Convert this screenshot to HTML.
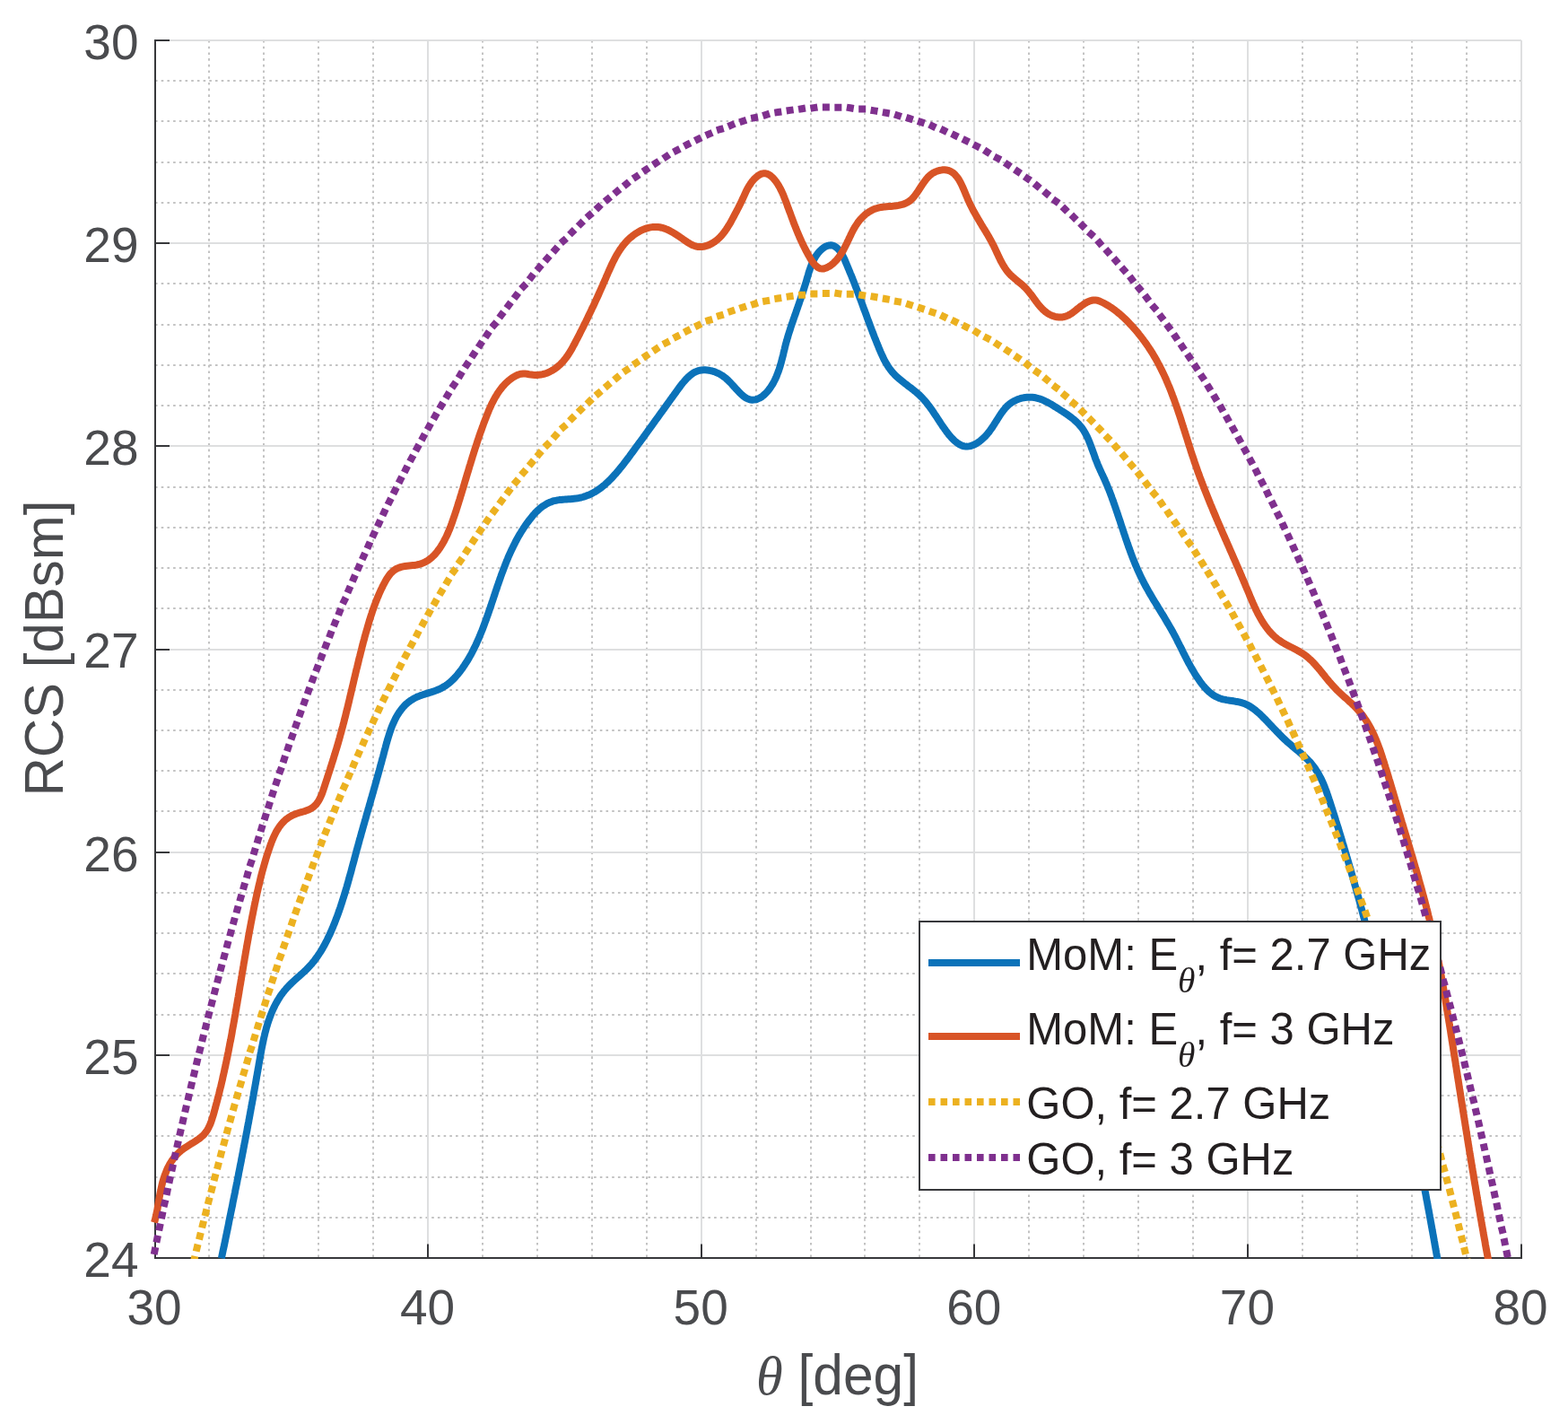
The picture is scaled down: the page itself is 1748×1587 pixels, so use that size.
<!DOCTYPE html>
<html><head><meta charset="utf-8"><title>RCS plot</title>
<style>html,body{margin:0;padding:0;background:#fff;}svg{display:block;}</style>
</head><body>
<svg xmlns="http://www.w3.org/2000/svg" width="1748" height="1587" viewBox="0 0 1748 1587">
<rect width="1748" height="1587" fill="#ffffff"/>
<path d="M233 45.0V1402.0002M294 45.0V1402.0002M355 45.0V1402.0002M416 45.0V1402.0002M538 45.0V1402.0002M599 45.0V1402.0002M660 45.0V1402.0002M721 45.0V1402.0002M843 45.0V1402.0002M904 45.0V1402.0002M964 45.0V1402.0002M1025 45.0V1402.0002M1147 45.0V1402.0002M1208 45.0V1402.0002M1269 45.0V1402.0002M1330 45.0V1402.0002M1452 45.0V1402.0002M1513 45.0V1402.0002M1574 45.0V1402.0002M1635 45.0V1402.0002M173.0 1357H1696.0M173.0 1312H1696.0M173.0 1266H1696.0M173.0 1221H1696.0M173.0 1131H1696.0M173.0 1085H1696.0M173.0 1040H1696.0M173.0 995H1696.0M173.0 904H1696.0M173.0 859H1696.0M173.0 814H1696.0M173.0 769H1696.0M173.0 678H1696.0M173.0 633H1696.0M173.0 588H1696.0M173.0 543H1696.0M173.0 452H1696.0M173.0 407H1696.0M173.0 362H1696.0M173.0 316H1696.0M173.0 226H1696.0M173.0 181H1696.0M173.0 135H1696.0M173.0 90H1696.0" stroke="#c3c3c3" stroke-width="2" stroke-dasharray="2.6 4.1" fill="none"/>
<path d="M477 45.0V1402.0002M782 45.0V1402.0002M1086 45.0V1402.0002M1391 45.0V1402.0002M1696 45.0V1402.0002M173.0 1176H1696.0M173.0 950H1696.0M173.0 724H1696.0M173.0 497H1696.0M173.0 271H1696.0M173.0 45H1696.0" stroke="#dedfe0" stroke-width="2" fill="none"/>
<path d="M173.0 44.0V1403.0002M172.0 1402.0002H1697.0M172.0 1402h17M172.0 1176h17M172.0 950h17M172.0 724h17M172.0 497h17M172.0 271h17M172.0 45h17M173 1403.0002v-16.5M477 1403.0002v-16.5M782 1403.0002v-16.5M1086 1403.0002v-16.5M1391 1403.0002v-16.5M1696 1403.0002v-16.5" stroke="#37383b" stroke-width="2" fill="none"/>
<defs><clipPath id="ax"><rect x="160" y="30" width="1560" height="1373"/></clipPath></defs>
<g clip-path="url(#ax)">
<path d="M246.9 1402.3 L247.3 1400.3 L247.7 1398.3 L248.1 1396.4 L248.5 1394.4 L248.9 1392.5 L249.4 1390.5 L249.8 1388.6 L250.2 1386.6 L250.6 1384.7 L251 1382.7 L251.4 1380.8 L251.8 1378.8 L252.2 1376.9 L252.6 1375 L253 1373 L253.4 1371.1 L253.8 1369.1 L254.2 1367.2 L254.6 1365.3 L255 1363.3 L255.3 1361.4 L255.7 1359.5 L256.1 1357.6 L256.5 1355.6 L256.9 1353.7 L257.3 1351.8 L257.7 1349.8 L258.1 1347.9 L258.5 1346 L258.9 1344.1 L259.3 1342.1 L259.6 1340.2 L260 1338.3 L260.4 1336.4 L260.8 1334.5 L261.2 1332.5 L261.6 1330.6 L262 1328.7 L262.3 1326.8 L262.7 1324.9 L263.1 1323 L263.5 1321 L263.9 1319.1 L264.3 1317.2 L264.6 1315.3 L265 1313.4 L265.4 1311.5 L265.8 1309.6 L266.1 1307.6 L266.5 1305.7 L266.9 1303.8 L267.3 1301.9 L267.6 1300 L268 1298.1 L268.4 1296.2 L268.8 1294.3 L269.1 1292.3 L269.5 1290.4 L269.9 1288.5 L270.2 1286.6 L270.6 1284.7 L271 1282.8 L271.3 1280.9 L271.7 1278.9 L272.1 1277 L272.4 1275.1 L272.8 1273.2 L273.2 1271.3 L273.5 1269.4 L273.9 1267.4 L274.3 1265.5 L274.6 1263.6 L275 1261.7 L275.4 1259.8 L275.7 1257.8 L276.1 1255.9 L276.4 1254 L276.8 1252.1 L277.2 1250.2 L277.5 1248.2 L277.9 1246.3 L278.2 1244.4 L278.6 1242.5 L278.9 1240.5 L279.3 1238.6 L279.6 1236.7 L280 1234.7 L280.3 1232.8 L280.7 1230.9 L281.1 1228.9 L281.4 1227 L281.8 1225.1 L282.1 1223.1 L282.5 1221.2 L282.8 1219.2 L283.1 1217.3 L283.5 1215.3 L283.8 1213.4 L284.2 1211.5 L284.5 1209.5 L284.9 1207.6 L285.2 1205.6 L285.6 1203.6 L285.9 1201.7 L286.2 1199.7 L286.6 1197.8 L286.9 1195.8 L287.3 1193.9 L287.6 1191.9 L288 1189.9 L288.3 1188 L288.6 1186 L289 1184 L289.3 1182 L289.7 1180.1 L290 1178.1 L290.3 1176.1 L290.7 1174.1 L291.1 1172.2 L291.4 1170.2 L291.8 1168.2 L292.2 1166.3 L292.6 1164.3 L293 1162.4 L293.4 1160.4 L293.8 1158.5 L294.2 1156.6 L294.7 1154.6 L295.1 1152.7 L295.6 1150.8 L296.1 1148.9 L296.6 1147 L297.1 1145.1 L297.7 1143.2 L298.2 1141.4 L298.8 1139.5 L299.4 1137.7 L300.1 1135.8 L300.7 1134 L301.4 1132.2 L302.1 1130.4 L302.8 1128.6 L303.5 1126.9 L304.3 1125.1 L305.1 1123.4 L306 1121.6 L306.8 1119.9 L307.7 1118.3 L308.6 1116.6 L309.6 1114.9 L310.6 1113.3 L311.6 1111.7 L312.6 1110.1 L313.7 1108.5 L314.9 1107 L316 1105.5 L317.2 1104 L318.5 1102.5 L319.7 1101 L321.1 1099.6 L322.4 1098.2 L323.8 1096.8 L325.2 1095.4 L326.7 1094.1 L328.2 1092.7 L329.6 1091.4 L331.1 1090 L332.6 1088.7 L334.1 1087.4 L335.6 1086 L337.1 1084.7 L338.6 1083.3 L340 1082 L341.5 1080.6 L342.9 1079.2 L344.2 1077.8 L345.6 1076.3 L346.9 1074.9 L348.1 1073.4 L349.4 1071.9 L350.6 1070.4 L351.7 1068.8 L352.9 1067.3 L354 1065.7 L355.1 1064.1 L356.1 1062.5 L357.2 1060.9 L358.2 1059.3 L359.2 1057.6 L360.1 1056 L361.1 1054.3 L362 1052.6 L362.9 1050.9 L363.8 1049.2 L364.7 1047.5 L365.5 1045.7 L366.3 1044 L367.2 1042.2 L368 1040.5 L368.8 1038.7 L369.6 1036.9 L370.3 1035.1 L371.1 1033.3 L371.8 1031.5 L372.6 1029.7 L373.3 1027.9 L374 1026.1 L374.7 1024.2 L375.4 1022.4 L376.1 1020.6 L376.8 1018.7 L377.4 1016.9 L378.1 1015 L378.7 1013.2 L379.4 1011.3 L380 1009.4 L380.6 1007.5 L381.2 1005.7 L381.8 1003.8 L382.4 1001.9 L383 1000 L383.6 998.1 L384.2 996.2 L384.8 994.3 L385.3 992.4 L385.9 990.5 L386.5 988.6 L387 986.7 L387.6 984.8 L388.1 982.9 L388.6 981 L389.2 979 L389.7 977.1 L390.2 975.2 L390.8 973.3 L391.3 971.4 L391.8 969.5 L392.3 967.6 L392.8 965.6 L393.3 963.7 L393.9 961.8 L394.4 959.9 L394.9 958 L395.4 956.1 L395.9 954.2 L396.4 952.3 L396.9 950.4 L397.4 948.5 L397.9 946.6 L398.5 944.7 L399 942.8 L399.5 940.9 L400 939.1 L400.5 937.2 L401 935.3 L401.6 933.4 L402.1 931.6 L402.6 929.7 L403.1 927.8 L403.7 926 L404.2 924.1 L404.7 922.2 L405.2 920.4 L405.8 918.5 L406.3 916.7 L406.8 914.8 L407.4 912.9 L407.9 911.1 L408.4 909.2 L408.9 907.4 L409.5 905.5 L410 903.7 L410.5 901.8 L411.1 899.9 L411.6 898.1 L412.1 896.2 L412.7 894.4 L413.2 892.5 L413.7 890.6 L414.3 888.8 L414.8 886.9 L415.3 885 L415.9 883.2 L416.4 881.3 L416.9 879.4 L417.5 877.5 L418 875.7 L418.5 873.8 L419.1 871.9 L419.6 870 L420.1 868.1 L420.6 866.2 L421.2 864.3 L421.7 862.4 L422.2 860.5 L422.8 858.6 L423.3 856.7 L423.8 854.8 L424.3 852.8 L424.9 850.9 L425.4 849 L425.9 847 L426.4 845.1 L427 843.1 L427.5 841.2 L428 839.2 L428.5 837.3 L429 835.3 L429.6 833.3 L430.1 831.3 L430.6 829.4 L431.2 827.4 L431.7 825.5 L432.3 823.5 L432.9 821.6 L433.5 819.6 L434.1 817.7 L434.7 815.8 L435.4 813.9 L436 812.1 L436.7 810.2 L437.4 808.4 L438.2 806.6 L439 804.8 L439.8 803.1 L440.6 801.4 L441.5 799.7 L442.4 798 L443.4 796.4 L444.4 794.8 L445.4 793.3 L446.5 791.8 L447.6 790.3 L448.8 788.9 L450 787.5 L451.2 786.2 L452.5 784.9 L453.9 783.7 L455.3 782.5 L456.8 781.4 L458.4 780.3 L460 779.3 L461.6 778.3 L463.3 777.5 L465.1 776.6 L467 775.9 L468.9 775.1 L470.8 774.5 L472.8 773.8 L474.8 773.2 L476.8 772.6 L478.8 771.9 L480.8 771.3 L482.8 770.7 L484.8 770 L486.7 769.3 L488.6 768.5 L490.5 767.7 L492.3 766.8 L494 765.8 L495.7 764.8 L497.3 763.8 L498.9 762.6 L500.4 761.5 L501.9 760.2 L503.3 759 L504.7 757.6 L506 756.3 L507.4 754.9 L508.6 753.5 L509.9 752 L511.1 750.5 L512.3 749 L513.5 747.5 L514.6 746 L515.7 744.4 L516.8 742.8 L517.9 741.2 L518.9 739.6 L520 738 L521 736.4 L522 734.7 L523 733 L523.9 731.4 L524.9 729.7 L525.8 728 L526.7 726.2 L527.6 724.5 L528.4 722.8 L529.3 721 L530.2 719.2 L531 717.5 L531.8 715.7 L532.6 713.9 L533.4 712.1 L534.2 710.3 L534.9 708.5 L535.7 706.7 L536.4 704.8 L537.2 703 L537.9 701.2 L538.6 699.3 L539.3 697.5 L540 695.6 L540.7 693.7 L541.4 691.9 L542.1 690 L542.7 688.1 L543.4 686.3 L544.1 684.4 L544.7 682.5 L545.4 680.6 L546 678.7 L546.6 676.9 L547.3 675 L547.9 673.1 L548.5 671.2 L549.2 669.3 L549.8 667.5 L550.4 665.6 L551.1 663.7 L551.7 661.8 L552.3 659.9 L552.9 658.1 L553.6 656.2 L554.2 654.3 L554.8 652.4 L555.5 650.6 L556.1 648.7 L556.8 646.9 L557.4 645 L558.1 643.1 L558.7 641.3 L559.4 639.4 L560.1 637.6 L560.8 635.8 L561.5 633.9 L562.2 632.1 L562.9 630.3 L563.6 628.4 L564.3 626.6 L565 624.8 L565.8 623 L566.5 621.2 L567.3 619.4 L568.1 617.6 L568.9 615.9 L569.7 614.1 L570.5 612.3 L571.4 610.6 L572.2 608.8 L573.1 607.1 L574 605.4 L574.8 603.6 L575.8 601.9 L576.7 600.2 L577.6 598.5 L578.6 596.8 L579.6 595.1 L580.6 593.5 L581.6 591.8 L582.7 590.2 L583.7 588.5 L584.8 586.9 L585.9 585.3 L587 583.7 L588.2 582.1 L589.4 580.5 L590.6 578.9 L591.8 577.4 L593 575.9 L594.3 574.3 L595.6 572.9 L596.9 571.4 L598.3 570 L599.7 568.7 L601.1 567.4 L602.6 566.1 L604.1 564.9 L605.7 563.8 L607.3 562.8 L608.9 561.8 L610.6 560.9 L612.3 560.1 L614.1 559.4 L615.9 558.7 L617.7 558.2 L619.7 557.8 L621.6 557.4 L623.6 557.1 L625.6 556.9 L627.6 556.7 L629.7 556.6 L631.7 556.4 L633.8 556.3 L635.8 556.2 L637.9 556 L639.9 555.8 L641.9 555.6 L643.9 555.3 L645.9 554.9 L647.8 554.5 L649.7 554 L651.5 553.4 L653.3 552.8 L655.1 552.1 L656.9 551.4 L658.6 550.6 L660.3 549.7 L662 548.8 L663.6 547.9 L665.3 546.9 L666.9 545.8 L668.4 544.7 L670 543.6 L671.5 542.4 L673 541.2 L674.5 539.9 L675.9 538.6 L677.4 537.3 L678.8 535.9 L680.2 534.5 L681.6 533.1 L683 531.7 L684.3 530.2 L685.6 528.7 L687 527.2 L688.3 525.7 L689.6 524.2 L690.8 522.6 L692.1 521 L693.3 519.5 L694.6 517.9 L695.8 516.3 L697 514.7 L698.3 513.1 L699.5 511.5 L700.7 509.9 L701.9 508.3 L703 506.7 L704.2 505.1 L705.4 503.5 L706.6 501.9 L707.7 500.3 L708.9 498.7 L710 497.2 L711.2 495.6 L712.3 494 L713.5 492.5 L714.6 490.9 L715.8 489.3 L716.9 487.8 L718 486.2 L719.2 484.7 L720.3 483.1 L721.4 481.6 L722.5 480 L723.7 478.4 L724.8 476.9 L725.9 475.3 L727 473.8 L728.2 472.2 L729.3 470.7 L730.4 469.1 L731.5 467.5 L732.7 466 L733.8 464.4 L734.9 462.8 L736.1 461.2 L737.2 459.7 L738.4 458.1 L739.5 456.5 L740.7 454.9 L741.8 453.3 L743 451.7 L744.1 450.1 L745.3 448.5 L746.5 446.8 L747.6 445.2 L748.8 443.6 L750 441.9 L751.2 440.3 L752.4 438.6 L753.6 437 L754.8 435.3 L756 433.6 L757.2 432 L758.5 430.3 L759.7 428.7 L761 427 L762.3 425.5 L763.6 423.9 L765 422.4 L766.4 421 L767.8 419.7 L769.2 418.4 L770.7 417.3 L772.2 416.2 L773.8 415.2 L775.4 414.4 L777.1 413.7 L778.8 413.1 L780.6 412.7 L782.5 412.4 L784.3 412.3 L786.2 412.3 L788.2 412.4 L790.1 412.7 L792.1 413.1 L794 413.5 L795.9 414.1 L797.8 414.8 L799.6 415.6 L801.4 416.4 L803.1 417.4 L804.8 418.4 L806.3 419.4 L807.8 420.5 L809.3 421.7 L810.7 423 L812.1 424.3 L813.4 425.6 L814.8 427 L816.1 428.5 L817.5 430 L818.9 431.6 L820.4 433.2 L821.9 434.8 L823.5 436.5 L825.1 438.2 L826.8 439.8 L828.5 441.3 L830.2 442.6 L831.9 443.7 L833.6 444.5 L835.3 445.1 L837 445.5 L838.7 445.7 L840.3 445.6 L842 445.4 L843.6 445 L845.1 444.4 L846.7 443.7 L848.2 442.8 L849.7 441.8 L851.1 440.6 L852.5 439.4 L853.9 438 L855.2 436.6 L856.5 435.1 L857.7 433.5 L858.9 431.9 L860 430.2 L861.1 428.5 L862.1 426.7 L863 425 L863.9 423.2 L864.8 421.4 L865.6 419.6 L866.3 417.7 L867 415.9 L867.7 414 L868.4 412.1 L869 410.3 L869.6 408.4 L870.1 406.5 L870.7 404.6 L871.2 402.6 L871.7 400.7 L872.2 398.8 L872.7 396.9 L873.2 394.9 L873.6 393 L874.1 391.1 L874.6 389.1 L875 387.2 L875.5 385.3 L876 383.3 L876.5 381.4 L877.1 379.5 L877.6 377.6 L878.2 375.7 L878.7 373.8 L879.3 371.9 L879.9 370.1 L880.5 368.2 L881.1 366.3 L881.7 364.4 L882.3 362.6 L882.9 360.7 L883.6 358.9 L884.2 357 L884.8 355.2 L885.5 353.4 L886.1 351.5 L886.8 349.7 L887.4 347.9 L888 346.1 L888.7 344.2 L889.3 342.4 L889.9 340.6 L890.6 338.8 L891.2 336.9 L891.8 335.1 L892.5 333.3 L893.1 331.4 L893.7 329.6 L894.3 327.8 L894.9 325.9 L895.5 324 L896.1 322.2 L896.7 320.3 L897.3 318.4 L897.9 316.5 L898.5 314.6 L899.1 312.7 L899.6 310.7 L900.2 308.8 L900.8 306.8 L901.3 304.9 L901.9 302.9 L902.6 301 L903.2 299.1 L903.9 297.2 L904.6 295.3 L905.3 293.5 L906.1 291.7 L907 289.9 L907.9 288.2 L908.9 286.5 L909.9 284.8 L911 283.3 L912.2 281.7 L913.5 280.3 L914.8 278.9 L916.3 277.6 L917.8 276.4 L919.4 275.3 L921.1 274.4 L922.8 273.8 L924.5 273.4 L926.2 273.3 L927.9 273.5 L929.6 274.1 L931.2 275 L932.7 276.1 L934.2 277.4 L935.5 278.8 L936.7 280.4 L937.9 282.1 L938.9 283.9 L939.9 285.8 L940.9 287.8 L941.8 289.7 L942.6 291.7 L943.4 293.6 L944.2 295.5 L945 297.4 L945.7 299.2 L946.5 301 L947.2 302.8 L947.9 304.5 L948.7 306.3 L949.4 308 L950.1 309.8 L950.8 311.6 L951.5 313.3 L952.2 315.1 L952.9 316.9 L953.6 318.7 L954.3 320.5 L955 322.3 L955.7 324.2 L956.4 326 L957 327.8 L957.7 329.6 L958.4 331.5 L959.1 333.3 L959.8 335.2 L960.5 337 L961.2 338.9 L961.8 340.7 L962.5 342.6 L963.2 344.5 L963.9 346.3 L964.6 348.2 L965.3 350 L966 351.9 L966.6 353.8 L967.3 355.6 L968 357.5 L968.7 359.3 L969.4 361.2 L970.1 363.1 L970.8 364.9 L971.5 366.8 L972.2 368.6 L972.9 370.5 L973.6 372.3 L974.3 374.1 L975 376 L975.8 377.8 L976.5 379.6 L977.2 381.4 L977.9 383.2 L978.7 385 L979.4 386.8 L980.1 388.6 L980.9 390.4 L981.6 392.1 L982.4 393.9 L983.2 395.6 L984 397.3 L984.8 399.1 L985.6 400.8 L986.5 402.4 L987.4 404.1 L988.4 405.7 L989.4 407.3 L990.4 408.9 L991.5 410.5 L992.6 412 L993.8 413.5 L995 415 L996.3 416.4 L997.6 417.8 L999 419.2 L1000.5 420.5 L1002 421.9 L1003.6 423.2 L1005.1 424.4 L1006.7 425.7 L1008.3 427 L1010 428.2 L1011.6 429.5 L1013.2 430.7 L1014.9 431.9 L1016.5 433.2 L1018.1 434.4 L1019.6 435.7 L1021.2 436.9 L1022.6 438.2 L1024.1 439.5 L1025.5 440.8 L1026.8 442.1 L1028.2 443.5 L1029.4 444.9 L1030.7 446.3 L1031.9 447.7 L1033.1 449.1 L1034.2 450.6 L1035.3 452.1 L1036.5 453.6 L1037.6 455.1 L1038.7 456.6 L1039.8 458.2 L1040.8 459.8 L1041.9 461.4 L1043 463 L1044.1 464.7 L1045.2 466.4 L1046.3 468.1 L1047.5 469.8 L1048.6 471.6 L1049.8 473.4 L1051 475.2 L1052.3 476.9 L1053.5 478.7 L1054.8 480.5 L1056.1 482.2 L1057.4 484 L1058.8 485.6 L1060.2 487.2 L1061.6 488.7 L1063 490.1 L1064.4 491.5 L1065.9 492.7 L1067.4 493.9 L1068.9 494.8 L1070.4 495.7 L1071.9 496.4 L1073.5 497 L1075.1 497.4 L1076.7 497.6 L1078.3 497.6 L1080 497.4 L1081.6 497.1 L1083.3 496.6 L1084.9 496 L1086.6 495.3 L1088.2 494.4 L1089.9 493.4 L1091.5 492.3 L1093.1 491 L1094.6 489.7 L1096.2 488.3 L1097.7 486.9 L1099.1 485.4 L1100.5 483.8 L1101.9 482.2 L1103.2 480.5 L1104.4 478.8 L1105.6 477.1 L1106.8 475.4 L1107.9 473.7 L1109 471.9 L1110.1 470.2 L1111.2 468.5 L1112.2 466.8 L1113.3 465.1 L1114.4 463.4 L1115.5 461.7 L1116.6 460.1 L1117.7 458.6 L1118.9 457 L1120.1 455.6 L1121.3 454.1 L1122.6 452.8 L1124 451.5 L1125.4 450.3 L1126.9 449.2 L1128.5 448.1 L1130.2 447.1 L1131.9 446.3 L1133.6 445.5 L1135.5 444.8 L1137.3 444.2 L1139.2 443.7 L1141.1 443.3 L1143 443 L1145 442.8 L1146.9 442.7 L1148.9 442.7 L1150.8 442.8 L1152.7 443 L1154.6 443.3 L1156.5 443.8 L1158.4 444.3 L1160.2 444.9 L1162 445.6 L1163.8 446.4 L1165.6 447.3 L1167.4 448.2 L1169.2 449.1 L1170.9 450.1 L1172.7 451.1 L1174.4 452.2 L1176.1 453.3 L1177.9 454.3 L1179.6 455.4 L1181.3 456.5 L1183 457.6 L1184.7 458.6 L1186.3 459.7 L1188 460.8 L1189.6 461.9 L1191.2 463 L1192.8 464.2 L1194.3 465.3 L1195.8 466.5 L1197.3 467.7 L1198.7 469 L1200.1 470.3 L1201.5 471.6 L1202.8 472.9 L1204 474.4 L1205.2 475.8 L1206.4 477.3 L1207.5 478.9 L1208.5 480.5 L1209.5 482.2 L1210.4 483.9 L1211.3 485.6 L1212.2 487.4 L1213 489.2 L1213.8 491 L1214.5 492.9 L1215.3 494.8 L1216 496.7 L1216.7 498.6 L1217.4 500.5 L1218.1 502.4 L1218.8 504.3 L1219.5 506.2 L1220.2 508.2 L1220.8 510.1 L1221.5 512 L1222.3 513.8 L1223 515.7 L1223.7 517.5 L1224.5 519.4 L1225.3 521.2 L1226.1 523 L1226.9 524.7 L1227.7 526.5 L1228.5 528.2 L1229.4 530 L1230.2 531.8 L1231 533.5 L1231.8 535.3 L1232.5 537.1 L1233.3 538.8 L1234.1 540.6 L1234.8 542.4 L1235.5 544.2 L1236.3 546 L1237 547.8 L1237.7 549.7 L1238.4 551.5 L1239.1 553.3 L1239.7 555.1 L1240.4 557 L1241.1 558.8 L1241.7 560.7 L1242.4 562.5 L1243 564.4 L1243.7 566.2 L1244.3 568.1 L1244.9 569.9 L1245.6 571.8 L1246.2 573.7 L1246.8 575.5 L1247.4 577.4 L1248.1 579.3 L1248.7 581.1 L1249.3 583 L1249.9 584.9 L1250.5 586.8 L1251.2 588.6 L1251.8 590.5 L1252.4 592.4 L1253 594.3 L1253.7 596.1 L1254.3 598 L1254.9 599.9 L1255.5 601.7 L1256.2 603.6 L1256.8 605.5 L1257.5 607.3 L1258.1 609.2 L1258.8 611 L1259.5 612.9 L1260.1 614.7 L1260.8 616.6 L1261.5 618.4 L1262.2 620.3 L1262.9 622.1 L1263.6 623.9 L1264.4 625.8 L1265.1 627.6 L1265.8 629.4 L1266.6 631.2 L1267.4 633 L1268.2 634.8 L1269 636.6 L1269.8 638.4 L1270.6 640.2 L1271.4 641.9 L1272.3 643.7 L1273.1 645.4 L1274 647.2 L1274.9 648.9 L1275.8 650.7 L1276.7 652.4 L1277.7 654.1 L1278.6 655.8 L1279.6 657.5 L1280.5 659.2 L1281.5 660.9 L1282.5 662.6 L1283.5 664.3 L1284.5 666 L1285.5 667.7 L1286.5 669.4 L1287.5 671 L1288.6 672.7 L1289.6 674.4 L1290.6 676.1 L1291.6 677.8 L1292.7 679.4 L1293.7 681.1 L1294.7 682.8 L1295.8 684.5 L1296.8 686.1 L1297.8 687.8 L1298.8 689.5 L1299.8 691.2 L1300.8 692.9 L1301.8 694.6 L1302.8 696.3 L1303.8 698 L1304.8 699.7 L1305.8 701.4 L1306.7 703.1 L1307.7 704.8 L1308.6 706.5 L1309.5 708.3 L1310.5 710 L1311.4 711.8 L1312.3 713.5 L1313.1 715.3 L1314 717 L1314.9 718.8 L1315.8 720.5 L1316.7 722.3 L1317.6 724.1 L1318.4 725.8 L1319.3 727.6 L1320.2 729.3 L1321.1 731.1 L1322 732.8 L1322.9 734.6 L1323.8 736.3 L1324.7 738.1 L1325.6 739.8 L1326.6 741.5 L1327.5 743.2 L1328.5 744.9 L1329.5 746.6 L1330.5 748.3 L1331.5 750 L1332.5 751.7 L1333.6 753.3 L1334.7 755 L1335.8 756.6 L1336.9 758.2 L1338 759.8 L1339.2 761.4 L1340.4 763 L1341.7 764.5 L1342.9 766 L1344.2 767.4 L1345.6 768.8 L1347 770.2 L1348.4 771.5 L1349.9 772.7 L1351.4 773.8 L1352.9 774.9 L1354.5 775.9 L1356.2 776.7 L1357.9 777.5 L1359.7 778.2 L1361.5 778.8 L1363.4 779.3 L1365.3 779.7 L1367.3 780.1 L1369.2 780.4 L1371.2 780.8 L1373.2 781 L1375.2 781.3 L1377.2 781.7 L1379.2 782 L1381.2 782.4 L1383.1 782.9 L1385 783.4 L1386.9 784.1 L1388.7 784.8 L1390.5 785.6 L1392.2 786.5 L1393.9 787.5 L1395.5 788.6 L1397.1 789.7 L1398.7 790.9 L1400.3 792.2 L1401.8 793.5 L1403.3 794.8 L1404.8 796.1 L1406.2 797.5 L1407.6 798.9 L1409 800.3 L1410.4 801.7 L1411.8 803.1 L1413.1 804.5 L1414.5 806 L1415.8 807.4 L1417.2 808.8 L1418.5 810.2 L1419.8 811.6 L1421.2 813 L1422.5 814.4 L1423.9 815.8 L1425.2 817.2 L1426.6 818.6 L1427.9 819.9 L1429.3 821.3 L1430.7 822.7 L1432.1 824 L1433.6 825.4 L1435 826.7 L1436.5 828 L1438 829.3 L1439.5 830.6 L1441 831.9 L1442.6 833.2 L1444.1 834.5 L1445.7 835.7 L1447.2 837 L1448.7 838.3 L1450.3 839.6 L1451.8 841 L1453.2 842.3 L1454.7 843.6 L1456.1 845 L1457.6 846.4 L1458.9 847.8 L1460.3 849.2 L1461.6 850.7 L1462.8 852.2 L1464 853.7 L1465.2 855.2 L1466.3 856.8 L1467.3 858.4 L1468.4 860 L1469.4 861.6 L1470.3 863.3 L1471.2 865 L1472.1 866.7 L1473 868.4 L1473.8 870.2 L1474.6 871.9 L1475.4 873.7 L1476.1 875.5 L1476.8 877.3 L1477.5 879.1 L1478.2 881 L1478.9 882.8 L1479.5 884.7 L1480.2 886.5 L1480.8 888.4 L1481.4 890.3 L1482.1 892.1 L1482.7 894 L1483.3 895.9 L1483.9 897.7 L1484.5 899.6 L1485.1 901.5 L1485.7 903.4 L1486.3 905.2 L1486.9 907.1 L1487.5 909 L1488.1 910.9 L1488.7 912.8 L1489.2 914.6 L1489.8 916.5 L1490.4 918.4 L1491 920.3 L1491.6 922.1 L1492.2 924 L1492.7 925.9 L1493.3 927.8 L1493.9 929.7 L1494.5 931.5 L1495 933.4 L1495.6 935.3 L1496.2 937.2 L1496.7 939.1 L1497.3 940.9 L1497.9 942.8 L1498.4 944.7 L1499 946.6 L1499.6 948.5 L1500.1 950.4 L1500.7 952.2 L1501.2 954.1 L1501.8 956 L1502.3 957.9 L1502.9 959.8 L1503.4 961.7 L1504 963.6 L1504.5 965.4 L1505.1 967.3 L1505.6 969.2 L1506.2 971.1 L1506.7 973 L1507.2 974.9 L1507.8 976.8 L1508.3 978.6 L1508.8 980.5 L1509.4 982.4 L1509.9 984.3 L1510.4 986.2 L1511 988.1 L1511.5 990 L1512 991.9 L1512.6 993.8 L1513.1 995.6 L1513.6 997.5 L1514.1 999.4 L1514.7 1001.3 L1515.2 1003.2 L1515.7 1005.1 L1516.2 1007 L1516.7 1008.9 L1517.2 1010.8 L1517.8 1012.7 L1518.3 1014.6 L1518.8 1016.5 L1519.3 1018.4 L1519.8 1020.3 L1520.3 1022.1 L1520.8 1024 L1521.3 1025.9 L1521.8 1027.8 L1522.3 1029.7 L1522.8 1031.6 L1523.3 1033.5 L1523.8 1035.4 L1524.3 1037.3 L1524.8 1039.2 L1525.3 1041.1 L1525.8 1043 L1526.3 1044.9 L1526.8 1046.8 L1527.3 1048.7 L1527.8 1050.6 L1528.3 1052.5 L1528.8 1054.4 L1529.3 1056.3 L1529.8 1058.2 L1530.2 1060.1 L1530.7 1062 L1531.2 1063.9 L1531.7 1065.8 L1532.2 1067.7 L1532.7 1069.6 L1533.1 1071.5 L1533.6 1073.4 L1534.1 1075.3 L1534.6 1077.2 L1535 1079.1 L1535.5 1081.1 L1536 1083 L1536.5 1084.9 L1536.9 1086.8 L1537.4 1088.7 L1537.9 1090.6 L1538.3 1092.5 L1538.8 1094.4 L1539.3 1096.3 L1539.7 1098.2 L1540.2 1100.1 L1540.7 1102 L1541.1 1103.9 L1541.6 1105.8 L1542 1107.7 L1542.5 1109.7 L1543 1111.6 L1543.4 1113.5 L1543.9 1115.4 L1544.3 1117.3 L1544.8 1119.2 L1545.2 1121.1 L1545.7 1123 L1546.1 1124.9 L1546.6 1126.8 L1547 1128.8 L1547.5 1130.7 L1547.9 1132.6 L1548.4 1134.5 L1548.8 1136.4 L1549.3 1138.3 L1549.7 1140.2 L1550.1 1142.1 L1550.6 1144.1 L1551 1146 L1551.5 1147.9 L1551.9 1149.8 L1552.3 1151.7 L1552.8 1153.6 L1553.2 1155.5 L1553.6 1157.5 L1554.1 1159.4 L1554.5 1161.3 L1554.9 1163.2 L1555.4 1165.1 L1555.8 1167 L1556.2 1169 L1556.7 1170.9 L1557.1 1172.8 L1557.5 1174.7 L1557.9 1176.6 L1558.4 1178.5 L1558.8 1180.5 L1559.2 1182.4 L1559.6 1184.3 L1560 1186.2 L1560.5 1188.1 L1560.9 1190 L1561.3 1192 L1561.7 1193.9 L1562.1 1195.8 L1562.5 1197.7 L1563 1199.6 L1563.4 1201.6 L1563.8 1203.5 L1564.2 1205.4 L1564.6 1207.3 L1565 1209.2 L1565.4 1211.2 L1565.8 1213.1 L1566.2 1215 L1566.7 1216.9 L1567.1 1218.8 L1567.5 1220.8 L1567.9 1222.7 L1568.3 1224.6 L1568.7 1226.5 L1569.1 1228.5 L1569.5 1230.4 L1569.9 1232.3 L1570.3 1234.2 L1570.7 1236.2 L1571.1 1238.1 L1571.5 1240 L1571.9 1241.9 L1572.3 1243.8 L1572.7 1245.8 L1573 1247.7 L1573.4 1249.6 L1573.8 1251.5 L1574.2 1253.5 L1574.6 1255.4 L1575 1257.3 L1575.4 1259.2 L1575.8 1261.2 L1576.2 1263.1 L1576.6 1265 L1576.9 1266.9 L1577.3 1268.9 L1577.7 1270.8 L1578.1 1272.7 L1578.5 1274.6 L1578.9 1276.6 L1579.2 1278.5 L1579.6 1280.4 L1580 1282.4 L1580.4 1284.3 L1580.8 1286.2 L1581.1 1288.1 L1581.5 1290.1 L1581.9 1292 L1582.3 1293.9 L1582.6 1295.8 L1583 1297.8 L1583.4 1299.7 L1583.8 1301.6 L1584.1 1303.6 L1584.5 1305.5 L1584.9 1307.4 L1585.2 1309.3 L1585.6 1311.3 L1586 1313.2 L1586.3 1315.1 L1586.7 1317.1 L1587.1 1319 L1587.4 1320.9 L1587.8 1322.8 L1588.2 1324.8 L1588.5 1326.7 L1588.9 1328.6 L1589.3 1330.6 L1589.6 1332.5 L1590 1334.4 L1590.3 1336.4 L1590.7 1338.3 L1591.1 1340.2 L1591.4 1342.1 L1591.8 1344.1 L1592.1 1346 L1592.5 1347.9 L1592.9 1349.9 L1593.2 1351.8 L1593.6 1353.7 L1593.9 1355.7 L1594.3 1357.6 L1594.6 1359.5 L1595 1361.5 L1595.3 1363.4 L1595.7 1365.3 L1596 1367.3 L1596.4 1369.2 L1596.7 1371.1 L1597.1 1373 L1597.4 1375 L1597.8 1376.9 L1598.1 1378.8 L1598.5 1380.8 L1598.8 1382.7 L1599.2 1384.6 L1599.5 1386.6 L1599.8 1388.5 L1600.2 1390.4 L1600.5 1392.4 L1600.9 1394.3 L1601.2 1396.2 L1601.6 1398.2 L1601.9 1400.1 L1602.2 1402 L1602.6 1404" stroke="#0b72b9" stroke-width="8" fill="none" stroke-linejoin="round"/>
<path d="M172 1362.5 L172.6 1360.5 L173.1 1358.4 L173.6 1356.3 L174.1 1354.2 L174.5 1352.1 L175 1350 L175.4 1347.9 L175.8 1345.7 L176.1 1343.6 L176.5 1341.4 L176.9 1339.2 L177.3 1337.1 L177.6 1334.9 L178 1332.7 L178.4 1330.6 L178.8 1328.4 L179.3 1326.2 L179.7 1324.1 L180.2 1321.9 L180.7 1319.8 L181.2 1317.7 L181.8 1315.6 L182.4 1313.5 L183.1 1311.4 L183.8 1309.4 L184.6 1307.4 L185.4 1305.3 L186.2 1303.4 L187.1 1301.4 L188.1 1299.5 L189.1 1297.6 L190.2 1295.8 L191.3 1294 L192.6 1292.3 L193.8 1290.6 L195.2 1288.9 L196.6 1287.3 L198 1285.8 L199.6 1284.3 L201.2 1282.9 L202.9 1281.5 L204.6 1280.2 L206.5 1279 L208.3 1277.8 L210.2 1276.6 L212.1 1275.4 L214 1274.2 L215.9 1273.1 L217.8 1271.9 L219.6 1270.7 L221.4 1269.5 L223.1 1268.2 L224.7 1266.8 L226.3 1265.4 L227.7 1263.9 L229 1262.3 L230.3 1260.6 L231.4 1258.9 L232.4 1257 L233.3 1255.1 L234.2 1253.2 L235 1251.2 L235.7 1249.2 L236.4 1247.1 L237 1245 L237.7 1242.9 L238.3 1240.8 L238.9 1238.6 L239.5 1236.5 L240.1 1234.4 L240.6 1232.3 L241.2 1230.1 L241.8 1228 L242.3 1225.9 L242.9 1223.8 L243.4 1221.6 L244 1219.5 L244.5 1217.4 L245 1215.2 L245.5 1213.1 L246.1 1211 L246.6 1208.9 L247.1 1206.7 L247.6 1204.6 L248.1 1202.5 L248.5 1200.3 L249 1198.2 L249.5 1196.1 L250 1193.9 L250.4 1191.8 L250.9 1189.7 L251.4 1187.5 L251.8 1185.4 L252.3 1183.3 L252.7 1181.1 L253.2 1179 L253.6 1176.9 L254 1174.7 L254.5 1172.6 L254.9 1170.5 L255.3 1168.3 L255.7 1166.2 L256.1 1164.1 L256.5 1161.9 L257 1159.8 L257.4 1157.7 L257.8 1155.5 L258.2 1153.4 L258.6 1151.3 L258.9 1149.1 L259.3 1147 L259.7 1144.8 L260.1 1142.7 L260.5 1140.6 L260.9 1138.4 L261.3 1136.3 L261.6 1134.2 L262 1132 L262.4 1129.9 L262.7 1127.7 L263.1 1125.6 L263.5 1123.5 L263.8 1121.3 L264.2 1119.2 L264.6 1117 L264.9 1114.9 L265.3 1112.8 L265.7 1110.6 L266 1108.5 L266.4 1106.4 L266.7 1104.2 L267.1 1102.1 L267.4 1099.9 L267.8 1097.8 L268.2 1095.7 L268.5 1093.5 L268.9 1091.4 L269.2 1089.3 L269.6 1087.1 L269.9 1085 L270.3 1082.8 L270.7 1080.7 L271 1078.6 L271.4 1076.4 L271.7 1074.3 L272.1 1072.1 L272.5 1070 L272.8 1067.9 L273.2 1065.7 L273.6 1063.6 L273.9 1061.5 L274.3 1059.3 L274.7 1057.2 L275 1055 L275.4 1052.9 L275.8 1050.8 L276.2 1048.6 L276.6 1046.5 L276.9 1044.4 L277.3 1042.2 L277.7 1040.1 L278.1 1038 L278.5 1035.8 L278.9 1033.7 L279.3 1031.6 L279.7 1029.4 L280.1 1027.3 L280.5 1025.2 L280.9 1023 L281.3 1020.9 L281.8 1018.8 L282.2 1016.6 L282.6 1014.5 L283 1012.4 L283.5 1010.2 L283.9 1008.1 L284.3 1006 L284.8 1003.8 L285.2 1001.7 L285.7 999.6 L286.2 997.4 L286.6 995.3 L287.1 993.2 L287.6 991.1 L288.1 988.9 L288.6 986.8 L289.1 984.7 L289.6 982.6 L290.1 980.4 L290.6 978.3 L291.1 976.2 L291.7 974.1 L292.2 972 L292.8 969.9 L293.4 967.7 L294 965.6 L294.6 963.5 L295.2 961.4 L295.8 959.3 L296.4 957.2 L297.1 955.1 L297.7 953 L298.4 950.9 L299.1 948.9 L299.8 946.8 L300.5 944.7 L301.2 942.6 L302 940.5 L302.7 938.5 L303.5 936.5 L304.4 934.4 L305.2 932.5 L306.2 930.5 L307.1 928.6 L308.1 926.7 L309.2 924.9 L310.3 923.1 L311.4 921.4 L312.7 919.7 L314 918.1 L315.3 916.6 L316.8 915.1 L318.3 913.7 L319.9 912.4 L321.6 911.2 L323.4 910.1 L325.2 909 L327.2 908.1 L329.3 907.2 L331.4 906.5 L333.6 905.8 L335.9 905.1 L338.1 904.5 L340.4 903.8 L342.5 903 L344.6 902.2 L346.5 901.2 L348.3 900.1 L349.9 898.8 L351.4 897.4 L352.8 895.9 L354 894.2 L355.2 892.5 L356.2 890.6 L357.2 888.7 L358.1 886.7 L358.9 884.7 L359.7 882.6 L360.4 880.5 L361.1 878.3 L361.8 876.2 L362.5 874.1 L363.2 871.9 L363.9 869.8 L364.6 867.7 L365.3 865.6 L365.9 863.5 L366.6 861.4 L367.3 859.3 L368 857.2 L368.6 855.1 L369.3 853.1 L369.9 851 L370.6 848.9 L371.3 846.8 L371.9 844.8 L372.5 842.7 L373.2 840.6 L373.8 838.6 L374.4 836.5 L375.1 834.5 L375.7 832.4 L376.3 830.3 L376.9 828.3 L377.5 826.2 L378.1 824.1 L378.7 822 L379.2 820 L379.8 817.9 L380.4 815.8 L380.9 813.7 L381.5 811.6 L382.1 809.5 L382.6 807.4 L383.2 805.4 L383.7 803.3 L384.2 801.2 L384.8 799.1 L385.3 797 L385.8 794.8 L386.3 792.7 L386.9 790.6 L387.4 788.5 L387.9 786.4 L388.4 784.3 L388.9 782.2 L389.4 780.1 L389.9 777.9 L390.4 775.8 L390.9 773.7 L391.4 771.6 L391.9 769.5 L392.4 767.4 L392.9 765.2 L393.4 763.1 L393.9 761 L394.4 758.9 L394.9 756.7 L395.4 754.6 L395.9 752.5 L396.4 750.4 L396.9 748.3 L397.4 746.1 L398 744 L398.5 741.9 L399 739.8 L399.5 737.7 L400 735.5 L400.5 733.4 L401.1 731.3 L401.6 729.2 L402.1 727.1 L402.7 725 L403.2 722.9 L403.7 720.8 L404.3 718.6 L404.8 716.5 L405.4 714.4 L406 712.3 L406.5 710.2 L407.1 708.1 L407.7 706 L408.3 703.9 L408.9 701.9 L409.5 699.8 L410.1 697.7 L410.7 695.6 L411.3 693.5 L411.9 691.4 L412.6 689.4 L413.2 687.3 L413.9 685.2 L414.6 683.2 L415.2 681.1 L416 679.1 L416.7 677 L417.4 675 L418.2 672.9 L418.9 670.9 L419.7 668.9 L420.5 666.9 L421.4 664.9 L422.2 662.9 L423.1 660.9 L424 658.9 L424.9 656.9 L425.9 655 L426.8 653 L427.8 651.1 L428.9 649.1 L429.9 647.2 L431 645.3 L432.2 643.5 L433.4 641.7 L434.7 640 L436.1 638.4 L437.7 637 L439.3 635.6 L441.1 634.4 L443 633.4 L445.1 632.6 L447.2 631.9 L449.4 631.4 L451.6 631 L453.8 630.7 L456 630.5 L458.2 630.3 L460.4 630.1 L462.6 629.9 L464.7 629.5 L466.8 629 L468.9 628.4 L470.9 627.7 L472.9 626.8 L474.8 625.9 L476.6 624.8 L478.4 623.6 L480.1 622.3 L481.7 620.9 L483.3 619.4 L484.8 617.9 L486.2 616.2 L487.6 614.5 L488.9 612.8 L490.2 610.9 L491.4 609.1 L492.6 607.2 L493.7 605.3 L494.8 603.4 L495.8 601.4 L496.8 599.5 L497.8 597.5 L498.7 595.5 L499.6 593.5 L500.4 591.5 L501.3 589.5 L502.1 587.5 L502.8 585.5 L503.6 583.4 L504.3 581.4 L505 579.3 L505.7 577.3 L506.4 575.2 L507.1 573.2 L507.8 571.1 L508.5 569.1 L509.1 567 L509.8 564.9 L510.4 562.9 L511.1 560.8 L511.7 558.7 L512.4 556.7 L513 554.6 L513.6 552.5 L514.3 550.4 L514.9 548.4 L515.5 546.3 L516.2 544.2 L516.8 542.1 L517.4 540.1 L518 538 L518.6 535.9 L519.3 533.8 L519.9 531.7 L520.5 529.6 L521.1 527.6 L521.8 525.5 L522.4 523.4 L523 521.3 L523.6 519.2 L524.3 517.2 L524.9 515.1 L525.6 513 L526.2 510.9 L526.8 508.8 L527.5 506.8 L528.1 504.7 L528.8 502.6 L529.4 500.6 L530.1 498.5 L530.8 496.4 L531.5 494.4 L532.1 492.3 L532.8 490.2 L533.5 488.2 L534.2 486.1 L534.9 484.1 L535.6 482 L536.4 480 L537.1 477.9 L537.8 475.9 L538.6 473.8 L539.3 471.8 L540.1 469.8 L540.9 467.7 L541.7 465.7 L542.4 463.7 L543.2 461.7 L544.1 459.6 L544.9 457.6 L545.7 455.6 L546.6 453.7 L547.5 451.7 L548.4 449.7 L549.4 447.8 L550.4 445.9 L551.4 444 L552.5 442.1 L553.6 440.3 L554.7 438.4 L555.9 436.7 L557.2 434.9 L558.5 433.2 L559.8 431.5 L561.2 429.9 L562.7 428.3 L564.2 426.7 L565.9 425.2 L567.5 423.8 L569.3 422.4 L571.1 421.1 L573 419.9 L575 418.8 L576.9 417.9 L579 417.2 L581.1 416.7 L583.2 416.5 L585.4 416.6 L587.6 416.8 L589.8 417.2 L592 417.5 L594.2 417.8 L596.4 418 L598.6 418 L600.7 417.8 L602.9 417.6 L604.9 417.2 L607 416.6 L609 416 L611 415.2 L612.9 414.3 L614.8 413.3 L616.7 412.2 L618.5 411.1 L620.2 409.8 L621.9 408.5 L623.5 407.1 L625.1 405.6 L626.6 404 L628.1 402.4 L629.4 400.7 L630.8 399 L632.1 397.3 L633.3 395.5 L634.5 393.6 L635.6 391.8 L636.8 389.9 L637.9 388 L638.9 386 L640 384.1 L641 382.1 L642 380.2 L643 378.2 L644.1 376.3 L645.1 374.3 L646.1 372.4 L647 370.4 L648 368.5 L649 366.5 L650 364.6 L650.9 362.6 L651.9 360.7 L652.9 358.8 L653.8 356.8 L654.8 354.9 L655.7 352.9 L656.6 351 L657.6 349 L658.5 347.1 L659.4 345.2 L660.3 343.2 L661.3 341.3 L662.2 339.3 L663.1 337.3 L664 335.4 L664.9 333.4 L665.8 331.5 L666.7 329.5 L667.6 327.5 L668.4 325.6 L669.3 323.6 L670.2 321.6 L671.1 319.6 L672 317.6 L672.8 315.6 L673.7 313.6 L674.6 311.6 L675.5 309.6 L676.3 307.6 L677.2 305.6 L678.1 303.5 L679 301.5 L679.9 299.5 L680.8 297.5 L681.7 295.5 L682.6 293.5 L683.6 291.5 L684.6 289.6 L685.6 287.7 L686.6 285.7 L687.7 283.8 L688.8 282 L690 280.1 L691.1 278.3 L692.4 276.6 L693.6 274.8 L695 273.1 L696.3 271.4 L697.8 269.8 L699.2 268.2 L700.8 266.7 L702.4 265.2 L704.1 263.8 L705.8 262.4 L707.5 261.1 L709.4 259.9 L711.2 258.8 L713.1 257.7 L715.1 256.7 L717 255.8 L719 255.1 L721 254.4 L723.1 253.8 L725.1 253.4 L727.2 253.1 L729.2 252.9 L731.3 252.9 L733.4 253 L735.4 253.3 L737.5 253.7 L739.5 254.2 L741.5 254.9 L743.5 255.7 L745.5 256.7 L747.5 257.7 L749.5 258.8 L751.4 259.9 L753.4 261.2 L755.3 262.4 L757.3 263.7 L759.2 265 L761.1 266.3 L762.9 267.7 L764.8 268.9 L766.7 270.2 L768.6 271.3 L770.4 272.4 L772.3 273.3 L774.3 274 L776.2 274.6 L778.2 275 L780.3 275.1 L782.3 275 L784.4 274.7 L786.5 274.3 L788.5 273.6 L790.6 272.9 L792.5 271.9 L794.4 270.9 L796.3 269.7 L798 268.4 L799.7 267.1 L801.3 265.6 L802.9 264.1 L804.4 262.5 L805.8 260.8 L807.1 259.1 L808.4 257.3 L809.7 255.5 L810.9 253.6 L812.1 251.7 L813.3 249.8 L814.4 247.9 L815.5 245.9 L816.5 244 L817.6 242 L818.6 240.1 L819.6 238.2 L820.6 236.3 L821.6 234.4 L822.6 232.5 L823.6 230.6 L824.5 228.7 L825.5 226.8 L826.4 224.9 L827.3 223 L828.2 221 L829.1 219.1 L830 217.1 L830.9 215.1 L831.8 213.1 L832.8 211.2 L833.8 209.3 L835 207.3 L836.2 205.5 L837.4 203.6 L838.8 201.8 L840.3 200.1 L841.9 198.4 L843.6 196.9 L845.4 195.6 L847.2 194.5 L849 193.7 L850.9 193.3 L852.8 193.2 L854.6 193.6 L856.4 194.3 L858.2 195.3 L859.9 196.6 L861.6 198.2 L863.1 199.9 L864.6 201.7 L866 203.6 L867.3 205.6 L868.5 207.6 L869.6 209.6 L870.6 211.6 L871.6 213.6 L872.5 215.6 L873.4 217.7 L874.2 219.7 L875 221.8 L875.8 223.8 L876.5 225.8 L877.3 227.8 L878 229.9 L878.8 231.9 L879.5 233.9 L880.2 235.8 L881 237.8 L881.7 239.8 L882.4 241.8 L883.2 243.8 L883.9 245.7 L884.6 247.7 L885.4 249.7 L886.2 251.7 L886.9 253.6 L887.7 255.6 L888.5 257.6 L889.3 259.5 L890.2 261.5 L891 263.5 L891.9 265.5 L892.8 267.5 L893.7 269.5 L894.7 271.5 L895.6 273.5 L896.6 275.5 L897.7 277.6 L898.7 279.6 L899.8 281.7 L900.9 283.7 L902.1 285.8 L903.3 287.9 L904.5 289.9 L905.8 291.9 L907.2 293.7 L908.6 295.3 L910.1 296.7 L911.6 297.9 L913.2 298.8 L914.9 299.4 L916.6 299.6 L918.5 299.4 L920.4 298.8 L922.2 298 L924.1 297 L926 295.8 L927.8 294.4 L929.5 292.9 L931 291.4 L932.6 289.8 L934 288.1 L935.3 286.3 L936.6 284.5 L937.8 282.7 L939 280.8 L940.1 278.9 L941.1 277 L942.1 275 L943.1 273 L944.1 271 L945 269 L946 267 L946.9 265 L947.9 263 L948.8 261 L949.8 259 L950.8 257 L951.9 255.1 L952.9 253.2 L954.1 251.4 L955.3 249.6 L956.5 247.8 L957.8 246.1 L959.1 244.5 L960.6 242.9 L962 241.4 L963.6 240 L965.1 238.6 L966.8 237.4 L968.5 236.2 L970.3 235.2 L972.1 234.2 L974 233.3 L975.9 232.6 L977.9 232 L980 231.4 L982.1 231 L984.2 230.7 L986.4 230.4 L988.6 230.2 L990.8 230 L993 229.9 L995.2 229.7 L997.4 229.4 L999.5 229.2 L1001.7 228.9 L1003.8 228.4 L1005.8 227.9 L1007.8 227.3 L1009.7 226.5 L1011.5 225.6 L1013.3 224.5 L1015 223.2 L1016.6 221.8 L1018.1 220.2 L1019.5 218.5 L1020.9 216.6 L1022.3 214.7 L1023.6 212.8 L1024.9 210.8 L1026.2 208.8 L1027.5 206.8 L1028.8 204.8 L1030.2 202.9 L1031.5 201.1 L1032.9 199.3 L1034.3 197.7 L1035.9 196.1 L1037.5 194.7 L1039.2 193.4 L1041.1 192.3 L1043 191.4 L1045 190.6 L1047 190 L1049.1 189.6 L1051.2 189.3 L1053.2 189.3 L1055.1 189.5 L1057 189.9 L1058.8 190.5 L1060.4 191.3 L1062 192.3 L1063.5 193.4 L1064.8 194.8 L1066.1 196.3 L1067.4 197.9 L1068.6 199.6 L1069.7 201.5 L1070.8 203.5 L1071.8 205.5 L1072.8 207.6 L1073.7 209.7 L1074.7 211.9 L1075.6 214.1 L1076.5 216.4 L1077.5 218.6 L1078.4 220.8 L1079.3 223 L1080.3 225.1 L1081.3 227.2 L1082.3 229.2 L1083.3 231.2 L1084.3 233.2 L1085.3 235.2 L1086.4 237.1 L1087.5 239 L1088.5 240.9 L1089.6 242.7 L1090.7 244.6 L1091.8 246.4 L1092.8 248.2 L1093.9 250 L1095 251.8 L1096.1 253.6 L1097.2 255.3 L1098.3 257.1 L1099.3 258.9 L1100.4 260.7 L1101.5 262.5 L1102.5 264.3 L1103.6 266.2 L1104.6 268 L1105.6 269.9 L1106.6 271.8 L1107.6 273.7 L1108.5 275.7 L1109.5 277.6 L1110.4 279.6 L1111.3 281.6 L1112.3 283.6 L1113.2 285.6 L1114.2 287.6 L1115.1 289.6 L1116.1 291.6 L1117.2 293.5 L1118.3 295.4 L1119.4 297.3 L1120.6 299.1 L1121.8 300.9 L1123.1 302.6 L1124.5 304.2 L1126 305.8 L1127.5 307.3 L1129.1 308.7 L1130.7 310.1 L1132.4 311.5 L1134 312.9 L1135.7 314.3 L1137.4 315.7 L1139.1 317.1 L1140.7 318.5 L1142.3 320 L1143.8 321.6 L1145.3 323.2 L1146.7 324.9 L1148.1 326.7 L1149.5 328.4 L1150.8 330.2 L1152.2 332.1 L1153.5 333.9 L1154.8 335.7 L1156.1 337.4 L1157.5 339.2 L1158.9 340.9 L1160.3 342.5 L1161.8 344.1 L1163.3 345.6 L1164.9 347 L1166.6 348.3 L1168.3 349.5 L1170.1 350.5 L1172.1 351.5 L1174.1 352.2 L1176.2 352.8 L1178.3 353.3 L1180.4 353.5 L1182.5 353.6 L1184.6 353.4 L1186.6 353 L1188.6 352.4 L1190.5 351.6 L1192.4 350.6 L1194.3 349.5 L1196.1 348.2 L1197.9 346.8 L1199.7 345.4 L1201.5 343.9 L1203.4 342.5 L1205.3 341 L1207.2 339.7 L1209.1 338.4 L1211.1 337.2 L1213.1 336.2 L1215 335.4 L1217 334.8 L1219 334.5 L1221 334.4 L1223 334.7 L1225 335.3 L1226.9 336.1 L1228.8 337 L1230.7 337.9 L1232.6 339 L1234.4 340 L1236.3 341.2 L1238.1 342.3 L1239.9 343.6 L1241.6 344.8 L1243.4 346.1 L1245.1 347.4 L1246.8 348.8 L1248.5 350.2 L1250.1 351.7 L1251.8 353.1 L1253.4 354.6 L1255 356.2 L1256.5 357.7 L1258.1 359.3 L1259.6 360.9 L1261.1 362.5 L1262.6 364.1 L1264.1 365.8 L1265.5 367.4 L1267 369.1 L1268.4 370.8 L1269.7 372.5 L1271.1 374.2 L1272.4 375.9 L1273.7 377.6 L1275 379.4 L1276.3 381.1 L1277.6 382.9 L1278.8 384.6 L1280 386.4 L1281.2 388.2 L1282.4 390 L1283.6 391.9 L1284.7 393.7 L1285.8 395.5 L1286.9 397.4 L1288 399.2 L1289.1 401.1 L1290.1 403 L1291.1 404.9 L1292.2 406.8 L1293.1 408.7 L1294.1 410.6 L1295.1 412.6 L1296 414.5 L1297 416.5 L1297.9 418.4 L1298.8 420.4 L1299.7 422.3 L1300.5 424.3 L1301.4 426.3 L1302.2 428.3 L1303.1 430.3 L1303.9 432.3 L1304.7 434.3 L1305.5 436.4 L1306.3 438.4 L1307 440.4 L1307.8 442.5 L1308.6 444.5 L1309.3 446.5 L1310 448.6 L1310.8 450.7 L1311.5 452.7 L1312.2 454.8 L1312.9 456.8 L1313.6 458.9 L1314.3 461 L1315 463.1 L1315.7 465.1 L1316.4 467.2 L1317 469.3 L1317.7 471.4 L1318.4 473.5 L1319 475.6 L1319.7 477.7 L1320.4 479.8 L1321 481.8 L1321.7 483.9 L1322.3 486 L1323 488.1 L1323.7 490.2 L1324.3 492.3 L1325 494.4 L1325.6 496.5 L1326.3 498.5 L1327 500.6 L1327.6 502.7 L1328.3 504.8 L1329 506.9 L1329.7 508.9 L1330.4 511 L1331.1 513.1 L1331.7 515.1 L1332.5 517.2 L1333.2 519.2 L1333.9 521.3 L1334.6 523.3 L1335.3 525.4 L1336.1 527.4 L1336.8 529.4 L1337.5 531.5 L1338.3 533.5 L1339.1 535.5 L1339.8 537.5 L1340.6 539.6 L1341.4 541.6 L1342.1 543.6 L1342.9 545.6 L1343.7 547.6 L1344.5 549.6 L1345.3 551.6 L1346.1 553.6 L1346.9 555.6 L1347.7 557.6 L1348.5 559.6 L1349.3 561.6 L1350.2 563.6 L1351 565.6 L1351.8 567.5 L1352.6 569.5 L1353.5 571.5 L1354.3 573.5 L1355.2 575.5 L1356 577.5 L1356.8 579.4 L1357.7 581.4 L1358.5 583.4 L1359.4 585.4 L1360.3 587.4 L1361.1 589.4 L1362 591.3 L1362.8 593.3 L1363.7 595.3 L1364.6 597.3 L1365.4 599.3 L1366.3 601.2 L1367.2 603.2 L1368 605.2 L1368.9 607.2 L1369.8 609.2 L1370.7 611.2 L1371.5 613.2 L1372.4 615.2 L1373.3 617.2 L1374.2 619.2 L1375 621.2 L1375.9 623.2 L1376.8 625.2 L1377.7 627.2 L1378.5 629.2 L1379.4 631.2 L1380.3 633.2 L1381.2 635.2 L1382 637.2 L1382.9 639.3 L1383.8 641.3 L1384.6 643.3 L1385.5 645.3 L1386.4 647.4 L1387.2 649.4 L1388.1 651.5 L1388.9 653.5 L1389.8 655.6 L1390.7 657.6 L1391.5 659.7 L1392.4 661.7 L1393.2 663.8 L1394.1 665.8 L1395 667.9 L1395.8 669.9 L1396.7 672 L1397.6 674 L1398.5 676 L1399.5 678 L1400.4 680 L1401.4 682 L1402.3 683.9 L1403.4 685.8 L1404.4 687.7 L1405.5 689.6 L1406.5 691.5 L1407.7 693.3 L1408.8 695.1 L1410 696.8 L1411.2 698.6 L1412.5 700.2 L1413.8 701.9 L1415.1 703.5 L1416.5 705.1 L1417.9 706.6 L1419.4 708 L1420.9 709.5 L1422.5 710.8 L1424.1 712.2 L1425.8 713.4 L1427.6 714.6 L1429.4 715.8 L1431.2 716.9 L1433.1 718 L1435 719 L1436.9 720 L1438.9 721 L1440.9 722 L1442.8 723 L1444.8 724 L1446.7 725.1 L1448.6 726.1 L1450.5 727.3 L1452.3 728.4 L1454 729.6 L1455.8 730.9 L1457.4 732.2 L1459 733.6 L1460.6 735.1 L1462.2 736.5 L1463.7 738 L1465.1 739.6 L1466.6 741.2 L1468 742.8 L1469.4 744.4 L1470.8 746 L1472.2 747.7 L1473.5 749.4 L1474.9 751.1 L1476.3 752.8 L1477.6 754.5 L1479 756.2 L1480.4 757.9 L1481.8 759.6 L1483.2 761.2 L1484.7 762.9 L1486.1 764.5 L1487.6 766.1 L1489.1 767.7 L1490.7 769.3 L1492.3 770.8 L1493.9 772.3 L1495.5 773.8 L1497.1 775.3 L1498.7 776.8 L1500.4 778.2 L1502 779.7 L1503.6 781.2 L1505.3 782.7 L1506.9 784.2 L1508.4 785.7 L1510 787.2 L1511.5 788.7 L1513 790.3 L1514.5 791.9 L1515.9 793.5 L1517.3 795.1 L1518.6 796.8 L1519.9 798.5 L1521.1 800.3 L1522.3 802 L1523.5 803.8 L1524.6 805.6 L1525.7 807.5 L1526.7 809.3 L1527.8 811.2 L1528.8 813.1 L1529.7 815 L1530.7 817 L1531.6 818.9 L1532.5 820.9 L1533.3 822.9 L1534.2 824.9 L1535 826.9 L1535.8 828.9 L1536.5 831 L1537.3 833 L1538 835.1 L1538.8 837.1 L1539.5 839.2 L1540.2 841.3 L1540.9 843.4 L1541.5 845.4 L1542.2 847.5 L1542.9 849.6 L1543.5 851.7 L1544.2 853.8 L1544.8 855.9 L1545.5 858 L1546.1 860 L1546.7 862.1 L1547.4 864.2 L1548 866.3 L1548.6 868.4 L1549.3 870.5 L1549.9 872.5 L1550.5 874.6 L1551.1 876.7 L1551.7 878.8 L1552.4 880.9 L1553 882.9 L1553.6 885 L1554.2 887.1 L1554.8 889.2 L1555.4 891.2 L1556.1 893.3 L1556.7 895.4 L1557.3 897.5 L1557.9 899.5 L1558.5 901.6 L1559.1 903.7 L1559.7 905.8 L1560.4 907.8 L1561 909.9 L1561.6 912 L1562.2 914.1 L1562.8 916.2 L1563.5 918.2 L1564.1 920.3 L1564.7 922.4 L1565.3 924.5 L1566 926.6 L1566.6 928.6 L1567.2 930.7 L1567.8 932.8 L1568.5 934.9 L1569.1 937 L1569.7 939 L1570.3 941.1 L1571 943.2 L1571.6 945.3 L1572.2 947.4 L1572.8 949.5 L1573.4 951.5 L1574.1 953.6 L1574.7 955.7 L1575.3 957.8 L1575.9 959.9 L1576.5 962 L1577.1 964.1 L1577.7 966.2 L1578.4 968.3 L1579 970.3 L1579.6 972.4 L1580.2 974.5 L1580.8 976.6 L1581.4 978.7 L1581.9 980.8 L1582.5 982.9 L1583.1 985 L1583.7 987.1 L1584.3 989.2 L1584.9 991.3 L1585.4 993.4 L1586 995.5 L1586.6 997.6 L1587.1 999.7 L1587.7 1001.8 L1588.3 1003.9 L1588.8 1006 L1589.3 1008.1 L1589.9 1010.2 L1590.4 1012.3 L1591 1014.4 L1591.5 1016.5 L1592 1018.7 L1592.5 1020.8 L1593.1 1022.9 L1593.6 1025 L1594.1 1027.1 L1594.6 1029.2 L1595.1 1031.3 L1595.6 1033.5 L1596 1035.6 L1596.5 1037.7 L1597 1039.8 L1597.5 1041.9 L1597.9 1044 L1598.4 1046.2 L1598.9 1048.3 L1599.3 1050.4 L1599.8 1052.5 L1600.2 1054.7 L1600.7 1056.8 L1601.1 1058.9 L1601.5 1061 L1602 1063.2 L1602.4 1065.3 L1602.8 1067.4 L1603.2 1069.6 L1603.6 1071.7 L1604.1 1073.8 L1604.5 1076 L1604.9 1078.1 L1605.3 1080.2 L1605.7 1082.4 L1606.1 1084.5 L1606.5 1086.6 L1606.9 1088.8 L1607.2 1090.9 L1607.6 1093 L1608 1095.2 L1608.4 1097.3 L1608.8 1099.5 L1609.2 1101.6 L1609.5 1103.7 L1609.9 1105.9 L1610.3 1108 L1610.6 1110.2 L1611 1112.3 L1611.4 1114.4 L1611.7 1116.6 L1612.1 1118.7 L1612.4 1120.9 L1612.8 1123 L1613.1 1125.2 L1613.5 1127.3 L1613.8 1129.4 L1614.2 1131.6 L1614.5 1133.7 L1614.9 1135.9 L1615.2 1138 L1615.6 1140.2 L1615.9 1142.3 L1616.3 1144.5 L1616.6 1146.6 L1617 1148.7 L1617.3 1150.9 L1617.6 1153 L1618 1155.2 L1618.3 1157.3 L1618.6 1159.5 L1619 1161.6 L1619.3 1163.8 L1619.7 1165.9 L1620 1168.1 L1620.3 1170.2 L1620.7 1172.4 L1621 1174.5 L1621.3 1176.7 L1621.7 1178.8 L1622 1181 L1622.4 1183.1 L1622.7 1185.2 L1623 1187.4 L1623.4 1189.5 L1623.7 1191.7 L1624 1193.8 L1624.4 1196 L1624.7 1198.1 L1625 1200.3 L1625.4 1202.4 L1625.7 1204.6 L1626.1 1206.7 L1626.4 1208.9 L1626.7 1211 L1627.1 1213.2 L1627.4 1215.3 L1627.8 1217.5 L1628.1 1219.6 L1628.4 1221.8 L1628.8 1223.9 L1629.1 1226.1 L1629.4 1228.2 L1629.8 1230.3 L1630.1 1232.5 L1630.5 1234.6 L1630.8 1236.8 L1631.1 1238.9 L1631.5 1241.1 L1631.8 1243.2 L1632.2 1245.4 L1632.5 1247.5 L1632.9 1249.7 L1633.2 1251.8 L1633.5 1254 L1633.9 1256.1 L1634.2 1258.3 L1634.6 1260.4 L1634.9 1262.6 L1635.3 1264.7 L1635.6 1266.8 L1635.9 1269 L1636.3 1271.1 L1636.6 1273.3 L1637 1275.4 L1637.3 1277.6 L1637.7 1279.7 L1638 1281.9 L1638.4 1284 L1638.7 1286.2 L1639.1 1288.3 L1639.4 1290.5 L1639.8 1292.6 L1640.1 1294.7 L1640.5 1296.9 L1640.8 1299 L1641.2 1301.2 L1641.5 1303.3 L1641.9 1305.5 L1642.3 1307.6 L1642.6 1309.8 L1643 1311.9 L1643.3 1314.1 L1643.7 1316.2 L1644 1318.3 L1644.4 1320.5 L1644.8 1322.6 L1645.1 1324.8 L1645.5 1326.9 L1645.8 1329.1 L1646.2 1331.2 L1646.6 1333.3 L1646.9 1335.5 L1647.3 1337.6 L1647.7 1339.8 L1648 1341.9 L1648.4 1344.1 L1648.8 1346.2 L1649.1 1348.3 L1649.5 1350.5 L1649.9 1352.6 L1650.2 1354.8 L1650.6 1356.9 L1651 1359.1 L1651.4 1361.2 L1651.7 1363.3 L1652.1 1365.5 L1652.5 1367.6 L1652.9 1369.8 L1653.3 1371.9 L1653.6 1374 L1654 1376.2 L1654.4 1378.3 L1654.8 1380.5 L1655.2 1382.6 L1655.6 1384.7 L1655.9 1386.9 L1656.3 1389 L1656.7 1391.2 L1657.1 1393.3 L1657.5 1395.4 L1657.9 1397.6 L1658.3 1399.7 L1658.7 1401.8 L1659.1 1404" stroke="#d85426" stroke-width="8" fill="none" stroke-linejoin="round"/>
<path d="M212.7 1419.4 L213.3 1416.8 L213.9 1414.3 L214.5 1411.7 L215.1 1409.2 L215.8 1406.7 L216.4 1404.1 L217 1401.6 L217.6 1399.1 L218.2 1396.6 L218.8 1394.1 L219.4 1391.6 L220 1389.1 L220.6 1386.6 L221.2 1384.1 L221.8 1381.7 L222.5 1379.2 L223.1 1376.7 L223.7 1374.3 L224.3 1371.8 L224.9 1369.4 L225.5 1366.9 L226.1 1364.5 L226.7 1362.1 L227.3 1359.7 L227.9 1357.2 L228.5 1354.8 L229.2 1352.4 L229.8 1350 L230.4 1347.6 L231 1345.2 L231.6 1342.8 L232.2 1340.4 L232.8 1338.1 L233.4 1335.7 L234 1333.3 L234.6 1331 L235.3 1328.6 L235.9 1326.2 L236.5 1323.9 L237.1 1321.6 L237.7 1319.2 L238.3 1316.9 L238.9 1314.6 L239.5 1312.2 L240.1 1309.9 L240.7 1307.6 L241.3 1305.3 L242 1303 L242.6 1300.7 L243.2 1298.4 L243.8 1296.1 L244.4 1293.8 L245 1291.6 L245.6 1289.3 L246.2 1287 L246.8 1284.7 L247.4 1282.5 L248.1 1280.2 L248.7 1278 L249.3 1275.7 L249.9 1273.5 L250.5 1271.3 L251.1 1269 L251.7 1266.8 L252.3 1264.6 L252.9 1262.4 L253.5 1260.2 L254.1 1258 L254.8 1255.8 L255.4 1253.6 L256 1251.4 L256.6 1249.2 L257.2 1247 L257.8 1244.8 L258.4 1242.6 L259 1240.5 L259.6 1238.3 L260.2 1236.1 L260.8 1234 L261.5 1231.8 L262.1 1229.7 L262.7 1227.5 L263.3 1225.4 L263.9 1223.3 L264.5 1221.1 L265.1 1219 L265.7 1216.9 L266.3 1214.8 L266.9 1212.7 L267.6 1210.6 L268.2 1208.5 L268.8 1206.4 L269.4 1204.3 L270 1202.2 L270.6 1200.1 L271.2 1198 L271.8 1195.9 L272.4 1193.9 L273 1191.8 L273.6 1189.7 L274.3 1187.7 L274.9 1185.6 L275.5 1183.5 L276.1 1181.5 L276.7 1179.5 L277.3 1177.4 L277.9 1175.4 L278.5 1173.4 L279.1 1171.3 L279.7 1169.3 L280.4 1167.3 L281 1165.3 L281.6 1163.3 L282.2 1161.3 L282.8 1159.3 L283.4 1157.3 L284 1155.3 L284.6 1153.3 L285.2 1151.3 L285.8 1149.3 L286.4 1147.3 L287.1 1145.4 L287.7 1143.4 L288.3 1141.4 L288.9 1139.5 L289.5 1137.5 L290.1 1135.5 L290.7 1133.6 L291.3 1131.6 L291.9 1129.7 L292.5 1127.8 L293.1 1125.8 L293.8 1123.9 L294.4 1122 L295 1120.1 L295.6 1118.1 L296.2 1116.2 L296.8 1114.3 L297.4 1112.4 L298 1110.5 L298.6 1108.6 L299.2 1106.7 L299.9 1104.8 L300.5 1102.9 L301.1 1101 L301.7 1099.2 L302.3 1097.3 L302.9 1095.4 L303.5 1093.5 L304.1 1091.7 L304.7 1089.8 L305.3 1088 L305.9 1086.1 L306.6 1084.3 L307.2 1082.4 L307.8 1080.6 L308.4 1078.7 L309 1076.9 L309.6 1075.1 L310.2 1073.2 L310.8 1071.4 L311.4 1069.6 L312 1067.8 L312.7 1066 L313.3 1064.1 L313.9 1062.3 L314.5 1060.5 L315.1 1058.7 L315.7 1056.9 L316.3 1055.1 L316.9 1053.4 L317.5 1051.6 L318.1 1049.8 L318.7 1048 L319.4 1046.2 L320 1044.5 L320.6 1042.7 L321.2 1040.9 L321.8 1039.2 L322.4 1037.4 L323 1035.7 L323.6 1033.9 L324.2 1032.2 L324.8 1030.4 L325.5 1028.7 L326.1 1026.9 L326.7 1025.2 L327.3 1023.5 L327.9 1021.7 L328.5 1020 L329.1 1018.3 L329.7 1016.6 L330.3 1014.9 L330.9 1013.2 L331.5 1011.5 L332.2 1009.8 L332.8 1008.1 L333.4 1006.4 L334 1004.7 L334.6 1003 L335.2 1001.3 L335.8 999.6 L336.4 997.9 L337 996.2 L337.6 994.6 L338.2 992.9 L338.9 991.2 L339.5 989.6 L340.1 987.9 L340.7 986.3 L341.3 984.6 L341.9 983 L342.5 981.3 L343.1 979.7 L343.7 978 L344.3 976.4 L345 974.7 L345.6 973.1 L346.2 971.5 L346.8 969.9 L347.4 968.2 L348 966.6 L348.6 965 L349.2 963.4 L349.8 961.8 L350.4 960.2 L351 958.6 L351.7 957 L352.3 955.4 L352.9 953.8 L353.5 952.2 L354.1 950.6 L354.7 949 L355.3 947.4 L355.9 945.9 L356.5 944.3 L357.1 942.7 L357.8 941.1 L358.4 939.6 L359 938 L359.6 936.4 L360.2 934.9 L360.8 933.3 L361.4 931.8 L362 930.2 L362.6 928.7 L363.2 927.1 L363.8 925.6 L364.5 924.1 L365.1 922.5 L365.7 921 L366.3 919.5 L366.9 918 L367.5 916.4 L368.1 914.9 L368.7 913.4 L369.3 911.9 L369.9 910.4 L370.5 908.9 L371.2 907.4 L371.8 905.9 L372.4 904.4 L373 902.9 L373.6 901.4 L374.2 899.9 L374.8 898.4 L375.4 896.9 L376 895.4 L376.6 894 L377.3 892.5 L377.9 891 L378.5 889.5 L379.1 888.1 L379.7 886.6 L380.3 885.1 L380.9 883.7 L381.5 882.2 L382.1 880.8 L382.7 879.3 L383.3 877.9 L384 876.4 L384.6 875 L385.2 873.6 L385.8 872.1 L386.4 870.7 L387 869.2 L387.6 867.8 L388.2 866.4 L388.8 865 L389.4 863.6 L390.1 862.1 L390.7 860.7 L391.3 859.3 L391.9 857.9 L392.5 856.5 L393.1 855.1 L393.7 853.7 L394.3 852.3 L394.9 850.9 L395.5 849.5 L396.1 848.1 L396.8 846.7 L397.4 845.3 L398 844 L398.6 842.6 L399.2 841.2 L399.8 839.8 L400.4 838.4 L401 837.1 L401.6 835.7 L402.2 834.3 L402.8 833 L403.5 831.6 L404.1 830.3 L404.7 828.9 L405.3 827.6 L405.9 826.2 L406.5 824.9 L407.1 823.5 L407.7 822.2 L408.3 820.9 L408.9 819.5 L409.6 818.2 L410.2 816.9 L410.8 815.5 L411.4 814.2 L412 812.9 L412.6 811.6 L413.2 810.2 L413.8 808.9 L414.4 807.6 L415 806.3 L415.6 805 L416.3 803.7 L416.9 802.4 L417.5 801.1 L418.1 799.8 L418.7 798.5 L419.3 797.2 L419.9 795.9 L420.5 794.6 L421.1 793.3 L421.7 792 L422.4 790.8 L423 789.5 L423.6 788.2 L424.2 786.9 L424.8 785.7 L425.4 784.4 L426 783.1 L426.6 781.9 L427.2 780.6 L427.8 779.3 L428.4 778.1 L429.1 776.8 L429.7 775.6 L430.3 774.3 L430.9 773.1 L431.5 771.8 L432.1 770.6 L432.7 769.4 L433.3 768.1 L433.9 766.9 L434.5 765.7 L435.2 764.4 L435.8 763.2 L436.4 762 L437 760.8 L437.6 759.5 L438.2 758.3 L438.8 757.1 L439.4 755.9 L440 754.7 L440.6 753.5 L441.2 752.3 L441.9 751.1 L442.5 749.9 L443.1 748.7 L443.7 747.5 L444.3 746.3 L444.9 745.1 L445.5 743.9 L446.1 742.7 L446.7 741.5 L447.3 740.3 L447.9 739.1 L448.6 738 L449.2 736.8 L449.8 735.6 L450.4 734.4 L451 733.3 L451.6 732.1 L452.2 730.9 L452.8 729.8 L453.4 728.6 L454 727.4 L454.7 726.3 L455.3 725.1 L455.9 724 L456.5 722.8 L457.1 721.7 L457.7 720.5 L458.3 719.4 L458.9 718.3 L459.5 717.1 L460.1 716 L460.7 714.8 L461.4 713.7 L462 712.6 L462.6 711.5 L463.2 710.3 L463.8 709.2 L464.4 708.1 L465 707 L465.6 705.8 L466.2 704.7 L466.8 703.6 L467.5 702.5 L468.1 701.4 L468.7 700.3 L469.3 699.2 L469.9 698.1 L470.5 697 L471.1 695.9 L471.7 694.8 L472.3 693.7 L472.9 692.6 L473.5 691.5 L474.2 690.4 L474.8 689.3 L475.4 688.3 L476 687.2 L476.6 686.1 L477.2 685 L477.8 684 L478.4 682.9 L479 681.8 L479.6 680.7 L480.2 679.7 L480.9 678.6 L481.5 677.6 L482.1 676.5 L482.7 675.4 L483.3 674.4 L483.9 673.3 L484.5 672.3 L485.1 671.2 L485.7 670.2 L486.3 669.1 L487 668.1 L487.6 667 L488.2 666 L488.8 665 L489.4 663.9 L490 662.9 L490.6 661.9 L491.2 660.8 L491.8 659.8 L492.4 658.8 L493 657.8 L493.7 656.7 L494.3 655.7 L494.9 654.7 L495.5 653.7 L496.1 652.7 L496.7 651.7 L497.3 650.7 L497.9 649.7 L498.5 648.6 L499.1 647.6 L499.8 646.6 L500.4 645.6 L501 644.6 L501.6 643.7 L502.2 642.7 L502.8 641.7 L503.4 640.7 L504 639.7 L504.6 638.7 L505.2 637.7 L505.8 636.7 L506.5 635.8 L507.1 634.8 L507.7 633.8 L508.3 632.8 L508.9 631.9 L509.5 630.9 L510.1 629.9 L510.7 629 L511.3 628 L511.9 627 L512.5 626.1 L513.2 625.1 L513.8 624.2 L514.4 623.2 L515 622.3 L515.6 621.3 L516.2 620.4 L516.8 619.4 L517.4 618.5 L518 617.5 L518.6 616.6 L519.3 615.6 L519.9 614.7 L520.5 613.8 L521.1 612.8 L521.7 611.9 L522.3 611 L522.9 610 L523.5 609.1 L524.1 608.2 L524.7 607.3 L525.3 606.4 L526 605.4 L526.6 604.5 L527.2 603.6 L527.8 602.7 L528.4 601.8 L529 600.9 L529.6 600 L530.2 599.1 L530.8 598.2 L531.4 597.3 L532.1 596.4 L532.7 595.5 L533.3 594.6 L533.9 593.7 L534.5 592.8 L535.1 591.9 L535.7 591 L536.3 590.1 L536.9 589.2 L537.5 588.3 L538.1 587.5 L538.8 586.6 L539.4 585.7 L540 584.8 L540.6 583.9 L541.2 583.1 L541.8 582.2 L542.4 581.3 L543 580.5 L543.6 579.6 L544.2 578.7 L544.9 577.9 L545.5 577 L546.1 576.2 L546.7 575.3 L547.3 574.5 L547.9 573.6 L548.5 572.7 L549.1 571.9 L549.7 571.1 L550.3 570.2 L550.9 569.4 L551.6 568.5 L552.2 567.7 L552.8 566.8 L553.4 566 L554 565.2 L554.6 564.3 L555.2 563.5 L555.8 562.7 L556.4 561.8 L557 561 L557.6 560.2 L558.3 559.4 L558.9 558.5 L559.5 557.7 L560.1 556.9 L560.7 556.1 L561.3 555.3 L561.9 554.5 L562.5 553.7 L563.1 552.8 L563.7 552 L564.4 551.2 L565 550.4 L565.6 549.6 L566.2 548.8 L566.8 548 L567.4 547.2 L568 546.4 L568.6 545.6 L569.2 544.9 L569.8 544.1 L570.4 543.3 L571.1 542.5 L571.7 541.7 L572.3 540.9 L572.9 540.1 L573.5 539.4 L574.1 538.6 L574.7 537.8 L575.3 537 L575.9 536.3 L576.5 535.5 L577.2 534.7 L577.8 533.9 L578.4 533.2 L579 532.4 L579.6 531.6 L580.2 530.9 L580.8 530.1 L581.4 529.4 L582 528.6 L582.6 527.9 L583.2 527.1 L583.9 526.3 L584.5 525.6 L585.1 524.8 L585.7 524.1 L586.3 523.4 L586.9 522.6 L587.5 521.9 L588.1 521.1 L588.7 520.4 L589.3 519.7 L589.9 518.9 L590.6 518.2 L591.2 517.5 L591.8 516.7 L592.4 516 L593 515.3 L593.6 514.5 L594.2 513.8 L594.8 513.1 L595.4 512.4 L596 511.7 L596.7 510.9 L597.3 510.2 L597.9 509.5 L598.5 508.8 L599.1 508.1 L599.7 507.4 L600.3 506.7 L600.9 506 L601.5 505.3 L602.1 504.6 L602.7 503.9 L603.4 503.2 L604 502.5 L604.6 501.8 L605.2 501.1 L605.8 500.4 L606.4 499.7 L607 499 L607.6 498.3 L608.2 497.6 L608.8 496.9 L609.5 496.2 L610.1 495.6 L610.7 494.9 L611.3 494.2 L611.9 493.5 L612.5 492.8 L613.1 492.2 L613.7 491.5 L614.3 490.8 L614.9 490.2 L615.5 489.5 L616.2 488.8 L616.8 488.2 L617.4 487.5 L618 486.8 L618.6 486.2 L619.2 485.5 L619.8 484.8 L620.4 484.2 L621 483.5 L621.6 482.9 L622.2 482.2 L622.9 481.6 L623.5 480.9 L624.1 480.3 L624.7 479.6 L625.3 479 L625.9 478.4 L626.5 477.7 L627.1 477.1 L627.7 476.4 L628.3 475.8 L629 475.2 L629.6 474.5 L630.2 473.9 L630.8 473.3 L631.4 472.6 L632 472 L632.6 471.4 L633.2 470.8 L633.8 470.1 L634.4 469.5 L635 468.9 L635.7 468.3 L636.3 467.7 L636.9 467.1 L637.5 466.4 L638.1 465.8 L638.7 465.2 L639.3 464.6 L639.9 464 L640.5 463.4 L641.1 462.8 L641.8 462.2 L642.4 461.6 L643 461 L643.6 460.4 L644.2 459.8 L644.8 459.2 L645.4 458.6 L646 458 L646.6 457.4 L647.2 456.8 L647.8 456.2 L648.5 455.7 L649.1 455.1 L649.7 454.5 L650.3 453.9 L650.9 453.3 L651.5 452.8 L652.1 452.2 L652.7 451.6 L653.3 451 L653.9 450.5 L654.6 449.9 L655.2 449.3 L655.8 448.7 L656.4 448.2 L657 447.6 L657.6 447 L658.2 446.5 L658.8 445.9 L659.4 445.4 L660 444.8 L660.6 444.2 L661.3 443.7 L661.9 443.1 L662.5 442.6 L663.1 442 L663.7 441.5 L664.3 440.9 L664.9 440.4 L665.5 439.8 L666.1 439.3 L666.7 438.7 L667.3 438.2 L668 437.7 L668.6 437.1 L669.2 436.6 L669.8 436.1 L670.4 435.5 L671 435 L671.6 434.5 L672.2 433.9 L672.8 433.4 L673.4 432.9 L674.1 432.3 L674.7 431.8 L675.3 431.3 L675.9 430.8 L676.5 430.3 L677.1 429.7 L677.7 429.2 L678.3 428.7 L678.9 428.2 L679.5 427.7 L680.1 427.2 L680.8 426.7 L681.4 426.2 L682 425.6 L682.6 425.1 L683.2 424.6 L683.8 424.1 L684.4 423.6 L685 423.1 L685.6 422.6 L686.2 422.1 L686.9 421.6 L687.5 421.1 L688.1 420.6 L688.7 420.2 L689.3 419.7 L689.9 419.2 L690.5 418.7 L691.1 418.2 L691.7 417.7 L692.3 417.2 L692.9 416.8 L693.6 416.3 L694.2 415.8 L694.8 415.3 L695.4 414.8 L696 414.4 L696.6 413.9 L697.2 413.4 L697.8 412.9 L698.4 412.5 L699 412 L699.6 411.5 L700.3 411.1 L700.9 410.6 L701.5 410.2 L702.1 409.7 L702.7 409.2 L703.3 408.8 L703.9 408.3 L704.5 407.9 L705.1 407.4 L705.7 407 L706.4 406.5 L707 406 L707.6 405.6 L708.2 405.2 L708.8 404.7 L709.4 404.3 L710 403.8 L710.6 403.4 L711.2 402.9 L711.8 402.5 L712.4 402.1 L713.1 401.6 L713.7 401.2 L714.3 400.8 L714.9 400.3 L715.5 399.9 L716.1 399.5 L716.7 399 L717.3 398.6 L717.9 398.2 L718.5 397.8 L719.2 397.3 L719.8 396.9 L720.4 396.5 L721 396.1 L721.6 395.6 L722.2 395.2 L722.8 394.8 L723.4 394.4 L724 394 L724.6 393.6 L725.2 393.2 L725.9 392.8 L726.5 392.4 L727.1 391.9 L727.7 391.5 L728.3 391.1 L728.9 390.7 L729.5 390.3 L730.1 389.9 L730.7 389.5 L731.3 389.1 L731.9 388.7 L732.6 388.4 L733.2 388 L733.8 387.6 L734.4 387.2 L735 386.8 L735.6 386.4 L736.2 386 L736.8 385.6 L737.4 385.3 L738 384.9 L738.7 384.5 L739.3 384.1 L739.9 383.7 L740.5 383.4 L741.1 383 L741.7 382.6 L742.3 382.2 L742.9 381.9 L743.5 381.5 L744.1 381.1 L744.7 380.8 L745.4 380.4 L746 380 L746.6 379.7 L747.2 379.3 L747.8 378.9 L748.4 378.6 L749 378.2 L749.6 377.9 L750.2 377.5 L750.8 377.2 L751.5 376.8 L752.1 376.4 L752.7 376.1 L753.3 375.7 L753.9 375.4 L754.5 375.1 L755.1 374.7 L755.7 374.4 L756.3 374 L756.9 373.7 L757.5 373.3 L758.2 373 L758.8 372.7 L759.4 372.3 L760 372 L760.6 371.7 L761.2 371.3 L761.8 371 L762.4 370.7 L763 370.3 L763.6 370 L764.2 369.7 L764.9 369.4 L765.5 369 L766.1 368.7 L766.7 368.4 L767.3 368.1 L767.9 367.8 L768.5 367.4 L769.1 367.1 L769.7 366.8 L770.3 366.5 L771 366.2 L771.6 365.9 L772.2 365.6 L772.8 365.2 L773.4 364.9 L774 364.6 L774.6 364.3 L775.2 364 L775.8 363.7 L776.4 363.4 L777 363.1 L777.7 362.8 L778.3 362.5 L778.9 362.2 L779.5 361.9 L780.1 361.7 L780.7 361.4 L781.3 361.1 L781.9 360.8 L782.5 360.5 L783.1 360.2 L783.8 359.9 L784.4 359.6 L785 359.4 L785.6 359.1 L786.2 358.8 L786.8 358.5 L787.4 358.2 L788 358 L788.6 357.7 L789.2 357.4 L789.8 357.1 L790.5 356.9 L791.1 356.6 L791.7 356.3 L792.3 356.1 L792.9 355.8 L793.5 355.5 L794.1 355.3 L794.7 355 L795.3 354.7 L795.9 354.5 L796.6 354.2 L797.2 354 L797.8 353.7 L798.4 353.5 L799 353.2 L799.6 352.9 L800.2 352.7 L800.8 352.4 L801.4 352.2 L802 352 L802.6 351.7 L803.3 351.5 L803.9 351.2 L804.5 351 L805.1 350.7 L805.7 350.5 L806.3 350.3 L806.9 350 L807.5 349.8 L808.1 349.5 L808.7 349.3 L809.3 349.1 L810 348.8 L810.6 348.6 L811.2 348.4 L811.8 348.2 L812.4 347.9 L813 347.7 L813.6 347.5 L814.2 347.3 L814.8 347 L815.4 346.8 L816.1 346.6 L816.7 346.4 L817.3 346.2 L817.9 346 L818.5 345.7 L819.1 345.5 L819.7 345.3 L820.3 345.1 L820.9 344.9 L821.5 344.7 L822.1 344.5 L822.8 344.3 L823.4 344.1 L824 343.9 L824.6 343.7 L825.2 343.5 L825.8 343.3 L826.4 343.1 L827 342.9 L827.6 342.7 L828.2 342.5 L828.9 342.3 L829.5 342.1 L830.1 341.9 L830.7 341.7 L831.3 341.5 L831.9 341.3 L832.5 341.2 L833.1 341 L833.7 340.8 L834.3 340.6 L834.9 340.4 L835.6 340.2 L836.2 340.1 L836.8 339.9 L837.4 339.7 L838 339.5 L838.6 339.4 L839.2 339.2 L839.8 339 L840.4 338.9 L841 338.7 L841.6 338.5 L842.3 338.4 L842.9 338.2 L843.5 338 L844.1 337.9 L844.7 337.7 L845.3 337.5 L845.9 337.4 L846.5 337.2 L847.1 337.1 L847.7 336.9 L848.4 336.8 L849 336.6 L849.6 336.5 L850.2 336.3 L850.8 336.2 L851.4 336 L852 335.9 L852.6 335.7 L853.2 335.6 L853.8 335.4 L854.4 335.3 L855.1 335.1 L855.7 335 L856.3 334.9 L856.9 334.7 L857.5 334.6 L858.1 334.5 L858.7 334.3 L859.3 334.2 L859.9 334.1 L860.5 333.9 L861.2 333.8 L861.8 333.7 L862.4 333.6 L863 333.4 L863.6 333.3 L864.2 333.2 L864.8 333.1 L865.4 332.9 L866 332.8 L866.6 332.7 L867.2 332.6 L867.9 332.5 L868.5 332.4 L869.1 332.2 L869.7 332.1 L870.3 332 L870.9 331.9 L871.5 331.8 L872.1 331.7 L872.7 331.6 L873.3 331.5 L873.9 331.4 L874.6 331.3 L875.2 331.2 L875.8 331.1 L876.4 331 L877 330.9 L877.6 330.8 L878.2 330.7 L878.8 330.6 L879.4 330.5 L880 330.4 L880.7 330.3 L881.3 330.2 L881.9 330.2 L882.5 330.1 L883.1 330 L883.7 329.9 L884.3 329.8 L884.9 329.7 L885.5 329.7 L886.1 329.6 L886.7 329.5 L887.4 329.4 L888 329.4 L888.6 329.3 L889.2 329.2 L889.8 329.1 L890.4 329.1 L891 329 L891.6 328.9 L892.2 328.9 L892.8 328.8 L893.5 328.7 L894.1 328.7 L894.7 328.6 L895.3 328.5 L895.9 328.5 L896.5 328.4 L897.1 328.4 L897.7 328.3 L898.3 328.3 L898.9 328.2 L899.5 328.2 L900.2 328.1 L900.8 328.1 L901.4 328 L902 328 L902.6 327.9 L903.2 327.9 L903.8 327.8 L904.4 327.8 L905 327.7 L905.6 327.7 L906.3 327.7 L906.9 327.6 L907.5 327.6 L908.1 327.5 L908.7 327.5 L909.3 327.5 L909.9 327.4 L910.5 327.4 L911.1 327.4 L911.7 327.4 L912.3 327.3 L913 327.3 L913.6 327.3 L914.2 327.3 L914.8 327.2 L915.4 327.2 L916 327.2 L916.6 327.2 L917.2 327.2 L917.8 327.1 L918.4 327.1 L919 327.1 L919.7 327.1 L920.3 327.1 L920.9 327.1 L921.5 327.1 L922.1 327.1 L922.7 327 L923.3 327 L923.9 327 L924.5 327 L925.1 327 L925.8 327 L926.4 327 L927 327 L927.6 327 L928.2 327 L928.8 327 L929.4 327 L930 327.1 L930.6 327.1 L931.2 327.1 L931.8 327.1 L932.5 327.1 L933.1 327.1 L933.7 327.1 L934.3 327.1 L934.9 327.2 L935.5 327.2 L936.1 327.2 L936.7 327.2 L937.3 327.2 L937.9 327.3 L938.6 327.3 L939.2 327.3 L939.8 327.3 L940.4 327.4 L941 327.4 L941.6 327.4 L942.2 327.5 L942.8 327.5 L943.4 327.5 L944 327.6 L944.6 327.6 L945.3 327.6 L945.9 327.7 L946.5 327.7 L947.1 327.8 L947.7 327.8 L948.3 327.8 L948.9 327.9 L949.5 327.9 L950.1 328 L950.7 328 L951.3 328.1 L952 328.1 L952.6 328.2 L953.2 328.2 L953.8 328.3 L954.4 328.3 L955 328.4 L955.6 328.5 L956.2 328.5 L956.8 328.6 L957.4 328.6 L958.1 328.7 L958.7 328.8 L959.3 328.8 L959.9 328.9 L960.5 329 L961.1 329 L961.7 329.1 L962.3 329.2 L962.9 329.2 L963.5 329.3 L964.1 329.4 L964.8 329.5 L965.4 329.5 L966 329.6 L966.6 329.7 L967.2 329.8 L967.8 329.9 L968.4 329.9 L969 330 L969.6 330.1 L970.2 330.2 L970.9 330.3 L971.5 330.4 L972.1 330.5 L972.7 330.6 L973.3 330.7 L973.9 330.7 L974.5 330.8 L975.1 330.9 L975.7 331 L976.3 331.1 L976.9 331.2 L977.6 331.3 L978.2 331.4 L978.8 331.5 L979.4 331.6 L980 331.7 L980.6 331.9 L981.2 332 L981.8 332.1 L982.4 332.2 L983 332.3 L983.6 332.4 L984.3 332.5 L984.9 332.6 L985.5 332.8 L986.1 332.9 L986.7 333 L987.3 333.1 L987.9 333.2 L988.5 333.4 L989.1 333.5 L989.7 333.6 L990.4 333.7 L991 333.9 L991.6 334 L992.2 334.1 L992.8 334.3 L993.4 334.4 L994 334.5 L994.6 334.7 L995.2 334.8 L995.8 334.9 L996.4 335.1 L997.1 335.2 L997.7 335.3 L998.3 335.5 L998.9 335.6 L999.5 335.8 L1000.1 335.9 L1000.7 336.1 L1001.3 336.2 L1001.9 336.4 L1002.5 336.5 L1003.2 336.7 L1003.8 336.8 L1004.4 337 L1005 337.1 L1005.6 337.3 L1006.2 337.4 L1006.8 337.6 L1007.4 337.8 L1008 337.9 L1008.6 338.1 L1009.2 338.3 L1009.9 338.4 L1010.5 338.6 L1011.1 338.8 L1011.7 338.9 L1012.3 339.1 L1012.9 339.3 L1013.5 339.4 L1014.1 339.6 L1014.7 339.8 L1015.3 340 L1016 340.1 L1016.6 340.3 L1017.2 340.5 L1017.8 340.7 L1018.4 340.9 L1019 341.1 L1019.6 341.2 L1020.2 341.4 L1020.8 341.6 L1021.4 341.8 L1022 342 L1022.7 342.2 L1023.3 342.4 L1023.9 342.6 L1024.5 342.8 L1025.1 343 L1025.7 343.2 L1026.3 343.4 L1026.9 343.6 L1027.5 343.8 L1028.1 344 L1028.7 344.2 L1029.4 344.4 L1030 344.6 L1030.6 344.8 L1031.2 345 L1031.8 345.2 L1032.4 345.4 L1033 345.6 L1033.6 345.8 L1034.2 346 L1034.8 346.3 L1035.5 346.5 L1036.1 346.7 L1036.7 346.9 L1037.3 347.1 L1037.9 347.4 L1038.5 347.6 L1039.1 347.8 L1039.7 348 L1040.3 348.3 L1040.9 348.5 L1041.5 348.7 L1042.2 348.9 L1042.8 349.2 L1043.4 349.4 L1044 349.6 L1044.6 349.9 L1045.2 350.1 L1045.8 350.4 L1046.4 350.6 L1047 350.8 L1047.6 351.1 L1048.3 351.3 L1048.9 351.6 L1049.5 351.8 L1050.1 352.1 L1050.7 352.3 L1051.3 352.6 L1051.9 352.8 L1052.5 353.1 L1053.1 353.3 L1053.7 353.6 L1054.3 353.8 L1055 354.1 L1055.6 354.3 L1056.2 354.6 L1056.8 354.9 L1057.4 355.1 L1058 355.4 L1058.6 355.6 L1059.2 355.9 L1059.8 356.2 L1060.4 356.4 L1061 356.7 L1061.7 357 L1062.3 357.3 L1062.9 357.5 L1063.5 357.8 L1064.1 358.1 L1064.7 358.4 L1065.3 358.6 L1065.9 358.9 L1066.5 359.2 L1067.1 359.5 L1067.8 359.8 L1068.4 360 L1069 360.3 L1069.6 360.6 L1070.2 360.9 L1070.8 361.2 L1071.4 361.5 L1072 361.8 L1072.6 362.1 L1073.2 362.4 L1073.8 362.7 L1074.5 363 L1075.1 363.3 L1075.7 363.6 L1076.3 363.9 L1076.9 364.2 L1077.5 364.5 L1078.1 364.8 L1078.7 365.1 L1079.3 365.4 L1079.9 365.7 L1080.6 366 L1081.2 366.3 L1081.8 366.6 L1082.4 366.9 L1083 367.3 L1083.6 367.6 L1084.2 367.9 L1084.8 368.2 L1085.4 368.5 L1086 368.8 L1086.6 369.2 L1087.3 369.5 L1087.9 369.8 L1088.5 370.1 L1089.1 370.5 L1089.7 370.8 L1090.3 371.1 L1090.9 371.5 L1091.5 371.8 L1092.1 372.1 L1092.7 372.5 L1093.3 372.8 L1094 373.1 L1094.6 373.5 L1095.2 373.8 L1095.8 374.2 L1096.4 374.5 L1097 374.9 L1097.6 375.2 L1098.2 375.5 L1098.8 375.9 L1099.4 376.2 L1100.1 376.6 L1100.7 376.9 L1101.3 377.3 L1101.9 377.7 L1102.5 378 L1103.1 378.4 L1103.7 378.7 L1104.3 379.1 L1104.9 379.5 L1105.5 379.8 L1106.1 380.2 L1106.8 380.5 L1107.4 380.9 L1108 381.3 L1108.6 381.6 L1109.2 382 L1109.8 382.4 L1110.4 382.8 L1111 383.1 L1111.6 383.5 L1112.2 383.9 L1112.9 384.3 L1113.5 384.7 L1114.1 385 L1114.7 385.4 L1115.3 385.8 L1115.9 386.2 L1116.5 386.6 L1117.1 387 L1117.7 387.3 L1118.3 387.7 L1118.9 388.1 L1119.6 388.5 L1120.2 388.9 L1120.8 389.3 L1121.4 389.7 L1122 390.1 L1122.6 390.5 L1123.2 390.9 L1123.8 391.3 L1124.4 391.7 L1125 392.1 L1125.7 392.5 L1126.3 392.9 L1126.9 393.3 L1127.5 393.8 L1128.1 394.2 L1128.7 394.6 L1129.3 395 L1129.9 395.4 L1130.5 395.8 L1131.1 396.2 L1131.7 396.7 L1132.4 397.1 L1133 397.5 L1133.6 397.9 L1134.2 398.4 L1134.8 398.8 L1135.4 399.2 L1136 399.6 L1136.6 400.1 L1137.2 400.5 L1137.8 400.9 L1138.4 401.4 L1139.1 401.8 L1139.7 402.2 L1140.3 402.7 L1140.9 403.1 L1141.5 403.6 L1142.1 404 L1142.7 404.5 L1143.3 404.9 L1143.9 405.3 L1144.5 405.8 L1145.2 406.2 L1145.8 406.7 L1146.4 407.1 L1147 407.6 L1147.6 408.1 L1148.2 408.5 L1148.8 409 L1149.4 409.4 L1150 409.9 L1150.6 410.4 L1151.2 410.8 L1151.9 411.3 L1152.5 411.7 L1153.1 412.2 L1153.7 412.7 L1154.3 413.2 L1154.9 413.6 L1155.5 414.1 L1156.1 414.6 L1156.7 415 L1157.3 415.5 L1158 416 L1158.6 416.5 L1159.2 417 L1159.8 417.4 L1160.4 417.9 L1161 418.4 L1161.6 418.9 L1162.2 419.4 L1162.8 419.9 L1163.4 420.4 L1164 420.9 L1164.7 421.4 L1165.3 421.8 L1165.9 422.3 L1166.5 422.8 L1167.1 423.3 L1167.7 423.8 L1168.3 424.3 L1168.9 424.9 L1169.5 425.4 L1170.1 425.9 L1170.7 426.4 L1171.4 426.9 L1172 427.4 L1172.6 427.9 L1173.2 428.4 L1173.8 428.9 L1174.4 429.4 L1175 430 L1175.6 430.5 L1176.2 431 L1176.8 431.5 L1177.5 432 L1178.1 432.6 L1178.7 433.1 L1179.3 433.6 L1179.9 434.2 L1180.5 434.7 L1181.1 435.2 L1181.7 435.8 L1182.3 436.3 L1182.9 436.8 L1183.5 437.4 L1184.2 437.9 L1184.8 438.4 L1185.4 439 L1186 439.5 L1186.6 440.1 L1187.2 440.6 L1187.8 441.2 L1188.4 441.7 L1189 442.3 L1189.6 442.8 L1190.3 443.4 L1190.9 443.9 L1191.5 444.5 L1192.1 445 L1192.7 445.6 L1193.3 446.2 L1193.9 446.7 L1194.5 447.3 L1195.1 447.8 L1195.7 448.4 L1196.3 449 L1197 449.6 L1197.6 450.1 L1198.2 450.7 L1198.8 451.3 L1199.4 451.8 L1200 452.4 L1200.6 453 L1201.2 453.6 L1201.8 454.2 L1202.4 454.7 L1203 455.3 L1203.7 455.9 L1204.3 456.5 L1204.9 457.1 L1205.5 457.7 L1206.1 458.3 L1206.7 458.9 L1207.3 459.5 L1207.9 460.1 L1208.5 460.7 L1209.1 461.3 L1209.8 461.9 L1210.4 462.5 L1211 463.1 L1211.6 463.7 L1212.2 464.3 L1212.8 464.9 L1213.4 465.5 L1214 466.1 L1214.6 466.7 L1215.2 467.3 L1215.8 467.9 L1216.5 468.6 L1217.1 469.2 L1217.7 469.8 L1218.3 470.4 L1218.9 471 L1219.5 471.7 L1220.1 472.3 L1220.7 472.9 L1221.3 473.5 L1221.9 474.2 L1222.6 474.8 L1223.2 475.4 L1223.8 476.1 L1224.4 476.7 L1225 477.4 L1225.6 478 L1226.2 478.6 L1226.8 479.3 L1227.4 479.9 L1228 480.6 L1228.6 481.2 L1229.3 481.9 L1229.9 482.5 L1230.5 483.2 L1231.1 483.8 L1231.7 484.5 L1232.3 485.1 L1232.9 485.8 L1233.5 486.4 L1234.1 487.1 L1234.7 487.8 L1235.3 488.4 L1236 489.1 L1236.6 489.8 L1237.2 490.4 L1237.8 491.1 L1238.4 491.8 L1239 492.5 L1239.6 493.1 L1240.2 493.8 L1240.8 494.5 L1241.4 495.2 L1242.1 495.8 L1242.7 496.5 L1243.3 497.2 L1243.9 497.9 L1244.5 498.6 L1245.1 499.3 L1245.7 500 L1246.3 500.7 L1246.9 501.4 L1247.5 502.1 L1248.1 502.8 L1248.8 503.5 L1249.4 504.2 L1250 504.9 L1250.6 505.6 L1251.2 506.3 L1251.8 507 L1252.4 507.7 L1253 508.4 L1253.6 509.1 L1254.2 509.8 L1254.9 510.5 L1255.5 511.2 L1256.1 512 L1256.7 512.7 L1257.3 513.4 L1257.9 514.1 L1258.5 514.9 L1259.1 515.6 L1259.7 516.3 L1260.3 517 L1260.9 517.8 L1261.6 518.5 L1262.2 519.2 L1262.8 520 L1263.4 520.7 L1264 521.4 L1264.6 522.2 L1265.2 522.9 L1265.8 523.7 L1266.4 524.4 L1267 525.2 L1267.7 525.9 L1268.3 526.7 L1268.9 527.4 L1269.5 528.2 L1270.1 528.9 L1270.7 529.7 L1271.3 530.4 L1271.9 531.2 L1272.5 532 L1273.1 532.7 L1273.7 533.5 L1274.4 534.3 L1275 535 L1275.6 535.8 L1276.2 536.6 L1276.8 537.4 L1277.4 538.1 L1278 538.9 L1278.6 539.7 L1279.2 540.5 L1279.8 541.3 L1280.4 542 L1281.1 542.8 L1281.7 543.6 L1282.3 544.4 L1282.9 545.2 L1283.5 546 L1284.1 546.8 L1284.7 547.6 L1285.3 548.4 L1285.9 549.2 L1286.5 550 L1287.2 550.8 L1287.8 551.6 L1288.4 552.4 L1289 553.2 L1289.6 554 L1290.2 554.8 L1290.8 555.6 L1291.4 556.4 L1292 557.3 L1292.6 558.1 L1293.2 558.9 L1293.9 559.7 L1294.5 560.5 L1295.1 561.4 L1295.7 562.2 L1296.3 563 L1296.9 563.9 L1297.5 564.7 L1298.1 565.5 L1298.7 566.4 L1299.3 567.2 L1300 568 L1300.6 568.9 L1301.2 569.7 L1301.8 570.6 L1302.4 571.4 L1303 572.3 L1303.6 573.1 L1304.2 574 L1304.8 574.8 L1305.4 575.7 L1306 576.5 L1306.7 577.4 L1307.3 578.2 L1307.9 579.1 L1308.5 580 L1309.1 580.8 L1309.7 581.7 L1310.3 582.6 L1310.9 583.5 L1311.5 584.3 L1312.1 585.2 L1312.7 586.1 L1313.4 587 L1314 587.8 L1314.6 588.7 L1315.2 589.6 L1315.8 590.5 L1316.4 591.4 L1317 592.3 L1317.6 593.2 L1318.2 594 L1318.8 594.9 L1319.5 595.8 L1320.1 596.7 L1320.7 597.6 L1321.3 598.5 L1321.9 599.4 L1322.5 600.4 L1323.1 601.3 L1323.7 602.2 L1324.3 603.1 L1324.9 604 L1325.5 604.9 L1326.2 605.8 L1326.8 606.7 L1327.4 607.7 L1328 608.6 L1328.6 609.5 L1329.2 610.4 L1329.8 611.4 L1330.4 612.3 L1331 613.2 L1331.6 614.2 L1332.3 615.1 L1332.9 616 L1333.5 617 L1334.1 617.9 L1334.7 618.9 L1335.3 619.8 L1335.9 620.8 L1336.5 621.7 L1337.1 622.7 L1337.7 623.6 L1338.3 624.6 L1339 625.5 L1339.6 626.5 L1340.2 627.4 L1340.8 628.4 L1341.4 629.4 L1342 630.3 L1342.6 631.3 L1343.2 632.3 L1343.8 633.3 L1344.4 634.2 L1345 635.2 L1345.7 636.2 L1346.3 637.2 L1346.9 638.1 L1347.5 639.1 L1348.1 640.1 L1348.7 641.1 L1349.3 642.1 L1349.9 643.1 L1350.5 644.1 L1351.1 645.1 L1351.8 646.1 L1352.4 647.1 L1353 648.1 L1353.6 649.1 L1354.2 650.1 L1354.8 651.1 L1355.4 652.1 L1356 653.1 L1356.6 654.1 L1357.2 655.1 L1357.8 656.2 L1358.5 657.2 L1359.1 658.2 L1359.7 659.2 L1360.3 660.3 L1360.9 661.3 L1361.5 662.3 L1362.1 663.3 L1362.7 664.4 L1363.3 665.4 L1363.9 666.5 L1364.6 667.5 L1365.2 668.5 L1365.8 669.6 L1366.4 670.6 L1367 671.7 L1367.6 672.7 L1368.2 673.8 L1368.8 674.8 L1369.4 675.9 L1370 676.9 L1370.6 678 L1371.3 679.1 L1371.9 680.1 L1372.5 681.2 L1373.1 682.3 L1373.7 683.3 L1374.3 684.4 L1374.9 685.5 L1375.5 686.6 L1376.1 687.6 L1376.7 688.7 L1377.4 689.8 L1378 690.9 L1378.6 692 L1379.2 693.1 L1379.8 694.2 L1380.4 695.3 L1381 696.4 L1381.6 697.5 L1382.2 698.6 L1382.8 699.7 L1383.4 700.8 L1384.1 701.9 L1384.7 703 L1385.3 704.1 L1385.9 705.2 L1386.5 706.3 L1387.1 707.4 L1387.7 708.6 L1388.3 709.7 L1388.9 710.8 L1389.5 711.9 L1390.1 713.1 L1390.8 714.2 L1391.4 715.3 L1392 716.5 L1392.6 717.6 L1393.2 718.7 L1393.8 719.9 L1394.4 721 L1395 722.2 L1395.6 723.3 L1396.2 724.5 L1396.9 725.6 L1397.5 726.8 L1398.1 727.9 L1398.7 729.1 L1399.3 730.3 L1399.9 731.4 L1400.5 732.6 L1401.1 733.8 L1401.7 734.9 L1402.3 736.1 L1402.9 737.3 L1403.6 738.5 L1404.2 739.6 L1404.8 740.8 L1405.4 742 L1406 743.2 L1406.6 744.4 L1407.2 745.6 L1407.8 746.8 L1408.4 748 L1409 749.2 L1409.7 750.4 L1410.3 751.6 L1410.9 752.8 L1411.5 754 L1412.1 755.2 L1412.7 756.4 L1413.3 757.6 L1413.9 758.8 L1414.5 760.1 L1415.1 761.3 L1415.7 762.5 L1416.4 763.7 L1417 765 L1417.6 766.2 L1418.2 767.4 L1418.8 768.7 L1419.4 769.9 L1420 771.1 L1420.6 772.4 L1421.2 773.6 L1421.8 774.9 L1422.4 776.1 L1423.1 777.4 L1423.7 778.6 L1424.3 779.9 L1424.9 781.1 L1425.5 782.4 L1426.1 783.7 L1426.7 784.9 L1427.3 786.2 L1427.9 787.5 L1428.5 788.8 L1429.2 790 L1429.8 791.3 L1430.4 792.6 L1431 793.9 L1431.6 795.2 L1432.2 796.5 L1432.8 797.7 L1433.4 799 L1434 800.3 L1434.6 801.6 L1435.2 802.9 L1435.9 804.2 L1436.5 805.5 L1437.1 806.9 L1437.7 808.2 L1438.3 809.5 L1438.9 810.8 L1439.5 812.1 L1440.1 813.4 L1440.7 814.8 L1441.3 816.1 L1442 817.4 L1442.6 818.8 L1443.2 820.1 L1443.8 821.4 L1444.4 822.8 L1445 824.1 L1445.6 825.4 L1446.2 826.8 L1446.8 828.1 L1447.4 829.5 L1448 830.9 L1448.7 832.2 L1449.3 833.6 L1449.9 834.9 L1450.5 836.3 L1451.1 837.7 L1451.7 839 L1452.3 840.4 L1452.9 841.8 L1453.5 843.2 L1454.1 844.5 L1454.7 845.9 L1455.4 847.3 L1456 848.7 L1456.6 850.1 L1457.2 851.5 L1457.8 852.9 L1458.4 854.3 L1459 855.7 L1459.6 857.1 L1460.2 858.5 L1460.8 859.9 L1461.5 861.3 L1462.1 862.7 L1462.7 864.2 L1463.3 865.6 L1463.9 867 L1464.5 868.4 L1465.1 869.9 L1465.7 871.3 L1466.3 872.7 L1466.9 874.2 L1467.5 875.6 L1468.2 877.1 L1468.8 878.5 L1469.4 879.9 L1470 881.4 L1470.6 882.9 L1471.2 884.3 L1471.8 885.8 L1472.4 887.2 L1473 888.7 L1473.6 890.2 L1474.3 891.6 L1474.9 893.1 L1475.5 894.6 L1476.1 896.1 L1476.7 897.6 L1477.3 899 L1477.9 900.5 L1478.5 902 L1479.1 903.5 L1479.7 905 L1480.3 906.5 L1481 908 L1481.6 909.5 L1482.2 911 L1482.8 912.5 L1483.4 914 L1484 915.6 L1484.6 917.1 L1485.2 918.6 L1485.8 920.1 L1486.4 921.7 L1487.1 923.2 L1487.7 924.7 L1488.3 926.3 L1488.9 927.8 L1489.5 929.4 L1490.1 930.9 L1490.7 932.4 L1491.3 934 L1491.9 935.6 L1492.5 937.1 L1493.1 938.7 L1493.8 940.2 L1494.4 941.8 L1495 943.4 L1495.6 945 L1496.2 946.5 L1496.8 948.1 L1497.4 949.7 L1498 951.3 L1498.6 952.9 L1499.2 954.5 L1499.8 956.1 L1500.5 957.7 L1501.1 959.3 L1501.7 960.9 L1502.3 962.5 L1502.9 964.1 L1503.5 965.7 L1504.1 967.3 L1504.7 968.9 L1505.3 970.6 L1505.9 972.2 L1506.6 973.8 L1507.2 975.4 L1507.8 977.1 L1508.4 978.7 L1509 980.4 L1509.6 982 L1510.2 983.7 L1510.8 985.3 L1511.4 987 L1512 988.6 L1512.6 990.3 L1513.3 992 L1513.9 993.6 L1514.5 995.3 L1515.1 997 L1515.7 998.6 L1516.3 1000.3 L1516.9 1002 L1517.5 1003.7 L1518.1 1005.4 L1518.7 1007.1 L1519.4 1008.8 L1520 1010.5 L1520.6 1012.2 L1521.2 1013.9 L1521.8 1015.6 L1522.4 1017.3 L1523 1019 L1523.6 1020.8 L1524.2 1022.5 L1524.8 1024.2 L1525.4 1025.9 L1526.1 1027.7 L1526.7 1029.4 L1527.3 1031.2 L1527.9 1032.9 L1528.5 1034.7 L1529.1 1036.4 L1529.7 1038.2 L1530.3 1039.9 L1530.9 1041.7 L1531.5 1043.4 L1532.1 1045.2 L1532.8 1047 L1533.4 1048.8 L1534 1050.5 L1534.6 1052.3 L1535.2 1054.1 L1535.8 1055.9 L1536.4 1057.7 L1537 1059.5 L1537.6 1061.3 L1538.2 1063.1 L1538.9 1064.9 L1539.5 1066.7 L1540.1 1068.5 L1540.7 1070.4 L1541.3 1072.2 L1541.9 1074 L1542.5 1075.8 L1543.1 1077.7 L1543.7 1079.5 L1544.3 1081.4 L1544.9 1083.2 L1545.6 1085 L1546.2 1086.9 L1546.8 1088.8 L1547.4 1090.6 L1548 1092.5 L1548.6 1094.3 L1549.2 1096.2 L1549.8 1098.1 L1550.4 1100 L1551 1101.8 L1551.7 1103.7 L1552.3 1105.6 L1552.9 1107.5 L1553.5 1109.4 L1554.1 1111.3 L1554.7 1113.2 L1555.3 1115.1 L1555.9 1117 L1556.5 1119 L1557.1 1120.9 L1557.7 1122.8 L1558.4 1124.7 L1559 1126.7 L1559.6 1128.6 L1560.2 1130.5 L1560.8 1132.5 L1561.4 1134.4 L1562 1136.4 L1562.6 1138.3 L1563.2 1140.3 L1563.8 1142.3 L1564.4 1144.2 L1565.1 1146.2 L1565.7 1148.2 L1566.3 1150.2 L1566.9 1152.1 L1567.5 1154.1 L1568.1 1156.1 L1568.7 1158.1 L1569.3 1160.1 L1569.9 1162.1 L1570.5 1164.1 L1571.2 1166.1 L1571.8 1168.1 L1572.4 1170.2 L1573 1172.2 L1573.6 1174.2 L1574.2 1176.3 L1574.8 1178.3 L1575.4 1180.3 L1576 1182.4 L1576.6 1184.4 L1577.2 1186.5 L1577.9 1188.5 L1578.5 1190.6 L1579.1 1192.7 L1579.7 1194.7 L1580.3 1196.8 L1580.9 1198.9 L1581.5 1201 L1582.1 1203.1 L1582.7 1205.2 L1583.3 1207.3 L1584 1209.4 L1584.6 1211.5 L1585.2 1213.6 L1585.8 1215.7 L1586.4 1217.8 L1587 1219.9 L1587.6 1222 L1588.2 1224.2 L1588.8 1226.3 L1589.4 1228.5 L1590 1230.6 L1590.7 1232.8 L1591.3 1234.9 L1591.9 1237.1 L1592.5 1239.2 L1593.1 1241.4 L1593.7 1243.6 L1594.3 1245.7 L1594.9 1247.9 L1595.5 1250.1 L1596.1 1252.3 L1596.8 1254.5 L1597.4 1256.7 L1598 1258.9 L1598.6 1261.1 L1599.2 1263.3 L1599.8 1265.5 L1600.4 1267.8 L1601 1270 L1601.6 1272.2 L1602.2 1274.5 L1602.8 1276.7 L1603.5 1278.9 L1604.1 1281.2 L1604.7 1283.5 L1605.3 1285.7 L1605.9 1288 L1606.5 1290.3 L1607.1 1292.5 L1607.7 1294.8 L1608.3 1297.1 L1608.9 1299.4 L1609.5 1301.7 L1610.2 1304 L1610.8 1306.3 L1611.4 1308.6 L1612 1310.9 L1612.6 1313.2 L1613.2 1315.6 L1613.8 1317.9 L1614.4 1320.2 L1615 1322.6 L1615.6 1324.9 L1616.3 1327.2 L1616.9 1329.6 L1617.5 1332 L1618.1 1334.3 L1618.7 1336.7 L1619.3 1339.1 L1619.9 1341.5 L1620.5 1343.8 L1621.1 1346.2 L1621.7 1348.6 L1622.3 1351 L1623 1353.4 L1623.6 1355.8 L1624.2 1358.3 L1624.8 1360.7 L1625.4 1363.1 L1626 1365.5 L1626.6 1368 L1627.2 1370.4 L1627.8 1372.9 L1628.4 1375.3 L1629.1 1377.8 L1629.7 1380.3 L1630.3 1382.7 L1630.9 1385.2 L1631.5 1387.7 L1632.1 1390.2 L1632.7 1392.7 L1633.3 1395.2 L1633.9 1397.7 L1634.5 1400.2 L1635.1 1402.7 L1635.8 1405.2 L1636.4 1407.7 L1637 1410.3 L1637.6 1412.8 L1638.2 1415.4 L1638.8 1417.9" stroke="#ecb120" stroke-width="8" fill="none" stroke-linecap="square" stroke-dasharray="0.01 13.49" stroke-dashoffset="10.99"/>
<path d="M172.5 1394 L173.1 1391 L173.7 1388 L174.3 1385.1 L174.9 1382.1 L175.5 1379.2 L176.1 1376.2 L176.7 1373.3 L177.4 1370.4 L178 1367.5 L178.6 1364.6 L179.2 1361.7 L179.8 1358.8 L180.4 1355.9 L181 1353 L181.6 1350.1 L182.2 1347.2 L182.8 1344.4 L183.4 1341.5 L184.1 1338.7 L184.7 1335.8 L185.3 1333 L185.9 1330.2 L186.5 1327.3 L187.1 1324.5 L187.7 1321.7 L188.3 1318.9 L188.9 1316.1 L189.5 1313.3 L190.2 1310.5 L190.8 1307.8 L191.4 1305 L192 1302.2 L192.6 1299.5 L193.2 1296.7 L193.8 1294 L194.4 1291.2 L195 1288.5 L195.6 1285.8 L196.2 1283 L196.9 1280.3 L197.5 1277.6 L198.1 1274.9 L198.7 1272.2 L199.3 1269.5 L199.9 1266.9 L200.5 1264.2 L201.1 1261.5 L201.7 1258.8 L202.3 1256.2 L203 1253.5 L203.6 1250.9 L204.2 1248.2 L204.8 1245.6 L205.4 1243 L206 1240.4 L206.6 1237.7 L207.2 1235.1 L207.8 1232.5 L208.4 1229.9 L209 1227.3 L209.7 1224.8 L210.3 1222.2 L210.9 1219.6 L211.5 1217 L212.1 1214.5 L212.7 1211.9 L213.3 1209.4 L213.9 1206.8 L214.5 1204.3 L215.1 1201.7 L215.8 1199.2 L216.4 1196.7 L217 1194.2 L217.6 1191.6 L218.2 1189.1 L218.8 1186.6 L219.4 1184.1 L220 1181.6 L220.6 1179.2 L221.2 1176.7 L221.8 1174.2 L222.5 1171.7 L223.1 1169.3 L223.7 1166.8 L224.3 1164.4 L224.9 1161.9 L225.5 1159.5 L226.1 1157 L226.7 1154.6 L227.3 1152.2 L227.9 1149.8 L228.5 1147.4 L229.2 1144.9 L229.8 1142.5 L230.4 1140.1 L231 1137.7 L231.6 1135.4 L232.2 1133 L232.8 1130.6 L233.4 1128.2 L234 1125.9 L234.6 1123.5 L235.3 1121.1 L235.9 1118.8 L236.5 1116.4 L237.1 1114.1 L237.7 1111.8 L238.3 1109.4 L238.9 1107.1 L239.5 1104.8 L240.1 1102.5 L240.7 1100.1 L241.3 1097.8 L242 1095.5 L242.6 1093.2 L243.2 1090.9 L243.8 1088.6 L244.4 1086.4 L245 1084.1 L245.6 1081.8 L246.2 1079.5 L246.8 1077.3 L247.4 1075 L248.1 1072.8 L248.7 1070.5 L249.3 1068.3 L249.9 1066 L250.5 1063.8 L251.1 1061.6 L251.7 1059.3 L252.3 1057.1 L252.9 1054.9 L253.5 1052.7 L254.1 1050.5 L254.8 1048.3 L255.4 1046.1 L256 1043.9 L256.6 1041.7 L257.2 1039.5 L257.8 1037.3 L258.4 1035.2 L259 1033 L259.6 1030.8 L260.2 1028.7 L260.8 1026.5 L261.5 1024.4 L262.1 1022.2 L262.7 1020.1 L263.3 1017.9 L263.9 1015.8 L264.5 1013.7 L265.1 1011.5 L265.7 1009.4 L266.3 1007.3 L266.9 1005.2 L267.6 1003.1 L268.2 1001 L268.8 998.9 L269.4 996.8 L270 994.7 L270.6 992.6 L271.2 990.5 L271.8 988.5 L272.4 986.4 L273 984.3 L273.6 982.3 L274.3 980.2 L274.9 978.1 L275.5 976.1 L276.1 974 L276.7 972 L277.3 970 L277.9 967.9 L278.5 965.9 L279.1 963.9 L279.7 961.8 L280.4 959.8 L281 957.8 L281.6 955.8 L282.2 953.8 L282.8 951.8 L283.4 949.8 L284 947.8 L284.6 945.8 L285.2 943.8 L285.8 941.8 L286.4 939.9 L287.1 937.9 L287.7 935.9 L288.3 934 L288.9 932 L289.5 930 L290.1 928.1 L290.7 926.1 L291.3 924.2 L291.9 922.2 L292.5 920.3 L293.1 918.4 L293.8 916.4 L294.4 914.5 L295 912.6 L295.6 910.7 L296.2 908.8 L296.8 906.8 L297.4 904.9 L298 903 L298.6 901.1 L299.2 899.2 L299.9 897.4 L300.5 895.5 L301.1 893.6 L301.7 891.7 L302.3 889.8 L302.9 888 L303.5 886.1 L304.1 884.2 L304.7 882.4 L305.3 880.5 L305.9 878.6 L306.6 876.8 L307.2 874.9 L307.8 873.1 L308.4 871.3 L309 869.4 L309.6 867.6 L310.2 865.8 L310.8 863.9 L311.4 862.1 L312 860.3 L312.7 858.5 L313.3 856.7 L313.9 854.9 L314.5 853.1 L315.1 851.3 L315.7 849.5 L316.3 847.7 L316.9 845.9 L317.5 844.1 L318.1 842.3 L318.7 840.5 L319.4 838.8 L320 837 L320.6 835.2 L321.2 833.5 L321.8 831.7 L322.4 829.9 L323 828.2 L323.6 826.4 L324.2 824.7 L324.8 823 L325.5 821.2 L326.1 819.5 L326.7 817.7 L327.3 816 L327.9 814.3 L328.5 812.6 L329.1 810.8 L329.7 809.1 L330.3 807.4 L330.9 805.7 L331.5 804 L332.2 802.3 L332.8 800.6 L333.4 798.9 L334 797.2 L334.6 795.5 L335.2 793.8 L335.8 792.1 L336.4 790.5 L337 788.8 L337.6 787.1 L338.2 785.4 L338.9 783.8 L339.5 782.1 L340.1 780.5 L340.7 778.8 L341.3 777.1 L341.9 775.5 L342.5 773.8 L343.1 772.2 L343.7 770.6 L344.3 768.9 L345 767.3 L345.6 765.7 L346.2 764 L346.8 762.4 L347.4 760.8 L348 759.2 L348.6 757.5 L349.2 755.9 L349.8 754.3 L350.4 752.7 L351 751.1 L351.7 749.5 L352.3 747.9 L352.9 746.3 L353.5 744.7 L354.1 743.1 L354.7 741.6 L355.3 740 L355.9 738.4 L356.5 736.8 L357.1 735.2 L357.8 733.7 L358.4 732.1 L359 730.5 L359.6 729 L360.2 727.4 L360.8 725.9 L361.4 724.3 L362 722.8 L362.6 721.2 L363.2 719.7 L363.8 718.1 L364.5 716.6 L365.1 715.1 L365.7 713.5 L366.3 712 L366.9 710.5 L367.5 709 L368.1 707.5 L368.7 705.9 L369.3 704.4 L369.9 702.9 L370.5 701.4 L371.2 699.9 L371.8 698.4 L372.4 696.9 L373 695.4 L373.6 693.9 L374.2 692.4 L374.8 690.9 L375.4 689.5 L376 688 L376.6 686.5 L377.3 685 L377.9 683.5 L378.5 682.1 L379.1 680.6 L379.7 679.1 L380.3 677.7 L380.9 676.2 L381.5 674.8 L382.1 673.3 L382.7 671.9 L383.3 670.4 L384 669 L384.6 667.5 L385.2 666.1 L385.8 664.7 L386.4 663.2 L387 661.8 L387.6 660.4 L388.2 658.9 L388.8 657.5 L389.4 656.1 L390.1 654.7 L390.7 653.3 L391.3 651.8 L391.9 650.4 L392.5 649 L393.1 647.6 L393.7 646.2 L394.3 644.8 L394.9 643.4 L395.5 642 L396.1 640.6 L396.8 639.3 L397.4 637.9 L398 636.5 L398.6 635.1 L399.2 633.7 L399.8 632.4 L400.4 631 L401 629.6 L401.6 628.3 L402.2 626.9 L402.8 625.5 L403.5 624.2 L404.1 622.8 L404.7 621.5 L405.3 620.1 L405.9 618.8 L406.5 617.4 L407.1 616.1 L407.7 614.7 L408.3 613.4 L408.9 612.1 L409.6 610.7 L410.2 609.4 L410.8 608.1 L411.4 606.7 L412 605.4 L412.6 604.1 L413.2 602.8 L413.8 601.5 L414.4 600.1 L415 598.8 L415.6 597.5 L416.3 596.2 L416.9 594.9 L417.5 593.6 L418.1 592.3 L418.7 591 L419.3 589.7 L419.9 588.4 L420.5 587.2 L421.1 585.9 L421.7 584.6 L422.4 583.3 L423 582 L423.6 580.7 L424.2 579.5 L424.8 578.2 L425.4 576.9 L426 575.7 L426.6 574.4 L427.2 573.1 L427.8 571.9 L428.4 570.6 L429.1 569.4 L429.7 568.1 L430.3 566.9 L430.9 565.6 L431.5 564.4 L432.1 563.1 L432.7 561.9 L433.3 560.7 L433.9 559.4 L434.5 558.2 L435.2 557 L435.8 555.7 L436.4 554.5 L437 553.3 L437.6 552.1 L438.2 550.9 L438.8 549.6 L439.4 548.4 L440 547.2 L440.6 546 L441.2 544.8 L441.9 543.6 L442.5 542.4 L443.1 541.2 L443.7 540 L444.3 538.8 L444.9 537.6 L445.5 536.4 L446.1 535.2 L446.7 534 L447.3 532.9 L447.9 531.7 L448.6 530.5 L449.2 529.3 L449.8 528.1 L450.4 527 L451 525.8 L451.6 524.6 L452.2 523.5 L452.8 522.3 L453.4 521.1 L454 520 L454.7 518.8 L455.3 517.7 L455.9 516.5 L456.5 515.4 L457.1 514.2 L457.7 513.1 L458.3 511.9 L458.9 510.8 L459.5 509.7 L460.1 508.5 L460.7 507.4 L461.4 506.2 L462 505.1 L462.6 504 L463.2 502.9 L463.8 501.7 L464.4 500.6 L465 499.5 L465.6 498.4 L466.2 497.3 L466.8 496.2 L467.5 495 L468.1 493.9 L468.7 492.8 L469.3 491.7 L469.9 490.6 L470.5 489.5 L471.1 488.4 L471.7 487.3 L472.3 486.2 L472.9 485.1 L473.5 484.1 L474.2 483 L474.8 481.9 L475.4 480.8 L476 479.7 L476.6 478.6 L477.2 477.6 L477.8 476.5 L478.4 475.4 L479 474.3 L479.6 473.3 L480.2 472.2 L480.9 471.1 L481.5 470.1 L482.1 469 L482.7 468 L483.3 466.9 L483.9 465.9 L484.5 464.8 L485.1 463.8 L485.7 462.7 L486.3 461.7 L487 460.6 L487.6 459.6 L488.2 458.5 L488.8 457.5 L489.4 456.5 L490 455.4 L490.6 454.4 L491.2 453.4 L491.8 452.3 L492.4 451.3 L493 450.3 L493.7 449.3 L494.3 448.3 L494.9 447.2 L495.5 446.2 L496.1 445.2 L496.7 444.2 L497.3 443.2 L497.9 442.2 L498.5 441.2 L499.1 440.2 L499.8 439.2 L500.4 438.2 L501 437.2 L501.6 436.2 L502.2 435.2 L502.8 434.2 L503.4 433.2 L504 432.2 L504.6 431.2 L505.2 430.3 L505.8 429.3 L506.5 428.3 L507.1 427.3 L507.7 426.3 L508.3 425.4 L508.9 424.4 L509.5 423.4 L510.1 422.5 L510.7 421.5 L511.3 420.5 L511.9 419.6 L512.5 418.6 L513.2 417.7 L513.8 416.7 L514.4 415.7 L515 414.8 L515.6 413.8 L516.2 412.9 L516.8 411.9 L517.4 411 L518 410.1 L518.6 409.1 L519.3 408.2 L519.9 407.2 L520.5 406.3 L521.1 405.4 L521.7 404.4 L522.3 403.5 L522.9 402.6 L523.5 401.7 L524.1 400.7 L524.7 399.8 L525.3 398.9 L526 398 L526.6 397.1 L527.2 396.1 L527.8 395.2 L528.4 394.3 L529 393.4 L529.6 392.5 L530.2 391.6 L530.8 390.7 L531.4 389.8 L532.1 388.9 L532.7 388 L533.3 387.1 L533.9 386.2 L534.5 385.3 L535.1 384.4 L535.7 383.5 L536.3 382.6 L536.9 381.8 L537.5 380.9 L538.1 380 L538.8 379.1 L539.4 378.2 L540 377.4 L540.6 376.5 L541.2 375.6 L541.8 374.7 L542.4 373.9 L543 373 L543.6 372.1 L544.2 371.3 L544.9 370.4 L545.5 369.6 L546.1 368.7 L546.7 367.8 L547.3 367 L547.9 366.1 L548.5 365.3 L549.1 364.4 L549.7 363.6 L550.3 362.7 L550.9 361.9 L551.6 361.1 L552.2 360.2 L552.8 359.4 L553.4 358.5 L554 357.7 L554.6 356.9 L555.2 356 L555.8 355.2 L556.4 354.4 L557 353.6 L557.6 352.7 L558.3 351.9 L558.9 351.1 L559.5 350.3 L560.1 349.4 L560.7 348.6 L561.3 347.8 L561.9 347 L562.5 346.2 L563.1 345.4 L563.7 344.6 L564.4 343.8 L565 343 L565.6 342.2 L566.2 341.4 L566.8 340.6 L567.4 339.8 L568 339 L568.6 338.2 L569.2 337.4 L569.8 336.6 L570.4 335.8 L571.1 335 L571.7 334.2 L572.3 333.5 L572.9 332.7 L573.5 331.9 L574.1 331.1 L574.7 330.3 L575.3 329.6 L575.9 328.8 L576.5 328 L577.2 327.2 L577.8 326.5 L578.4 325.7 L579 324.9 L579.6 324.2 L580.2 323.4 L580.8 322.7 L581.4 321.9 L582 321.1 L582.6 320.4 L583.2 319.6 L583.9 318.9 L584.5 318.1 L585.1 317.4 L585.7 316.6 L586.3 315.9 L586.9 315.2 L587.5 314.4 L588.1 313.7 L588.7 312.9 L589.3 312.2 L589.9 311.5 L590.6 310.7 L591.2 310 L591.8 309.3 L592.4 308.5 L593 307.8 L593.6 307.1 L594.2 306.4 L594.8 305.6 L595.4 304.9 L596 304.2 L596.7 303.5 L597.3 302.8 L597.9 302 L598.5 301.3 L599.1 300.6 L599.7 299.9 L600.3 299.2 L600.9 298.5 L601.5 297.8 L602.1 297.1 L602.7 296.4 L603.4 295.7 L604 295 L604.6 294.3 L605.2 293.6 L605.8 292.9 L606.4 292.2 L607 291.5 L607.6 290.8 L608.2 290.1 L608.8 289.5 L609.5 288.8 L610.1 288.1 L610.7 287.4 L611.3 286.7 L611.9 286.1 L612.5 285.4 L613.1 284.7 L613.7 284 L614.3 283.4 L614.9 282.7 L615.5 282 L616.2 281.4 L616.8 280.7 L617.4 280 L618 279.4 L618.6 278.7 L619.2 278 L619.8 277.4 L620.4 276.7 L621 276.1 L621.6 275.4 L622.2 274.8 L622.9 274.1 L623.5 273.5 L624.1 272.8 L624.7 272.2 L625.3 271.5 L625.9 270.9 L626.5 270.3 L627.1 269.6 L627.7 269 L628.3 268.3 L629 267.7 L629.6 267.1 L630.2 266.4 L630.8 265.8 L631.4 265.2 L632 264.6 L632.6 263.9 L633.2 263.3 L633.8 262.7 L634.4 262.1 L635 261.4 L635.7 260.8 L636.3 260.2 L636.9 259.6 L637.5 259 L638.1 258.4 L638.7 257.8 L639.3 257.2 L639.9 256.5 L640.5 255.9 L641.1 255.3 L641.8 254.7 L642.4 254.1 L643 253.5 L643.6 252.9 L644.2 252.3 L644.8 251.7 L645.4 251.1 L646 250.6 L646.6 250 L647.2 249.4 L647.8 248.8 L648.5 248.2 L649.1 247.6 L649.7 247 L650.3 246.4 L650.9 245.9 L651.5 245.3 L652.1 244.7 L652.7 244.1 L653.3 243.6 L653.9 243 L654.6 242.4 L655.2 241.8 L655.8 241.3 L656.4 240.7 L657 240.1 L657.6 239.6 L658.2 239 L658.8 238.5 L659.4 237.9 L660 237.3 L660.6 236.8 L661.3 236.2 L661.9 235.7 L662.5 235.1 L663.1 234.6 L663.7 234 L664.3 233.5 L664.9 232.9 L665.5 232.4 L666.1 231.8 L666.7 231.3 L667.3 230.7 L668 230.2 L668.6 229.7 L669.2 229.1 L669.8 228.6 L670.4 228.1 L671 227.5 L671.6 227 L672.2 226.5 L672.8 225.9 L673.4 225.4 L674.1 224.9 L674.7 224.4 L675.3 223.8 L675.9 223.3 L676.5 222.8 L677.1 222.3 L677.7 221.8 L678.3 221.2 L678.9 220.7 L679.5 220.2 L680.1 219.7 L680.8 219.2 L681.4 218.7 L682 218.2 L682.6 217.7 L683.2 217.2 L683.8 216.7 L684.4 216.2 L685 215.7 L685.6 215.2 L686.2 214.7 L686.9 214.2 L687.5 213.7 L688.1 213.2 L688.7 212.7 L689.3 212.2 L689.9 211.7 L690.5 211.2 L691.1 210.7 L691.7 210.3 L692.3 209.8 L692.9 209.3 L693.6 208.8 L694.2 208.3 L694.8 207.9 L695.4 207.4 L696 206.9 L696.6 206.4 L697.2 206 L697.8 205.5 L698.4 205 L699 204.5 L699.6 204.1 L700.3 203.6 L700.9 203.2 L701.5 202.7 L702.1 202.2 L702.7 201.8 L703.3 201.3 L703.9 200.9 L704.5 200.4 L705.1 199.9 L705.7 199.5 L706.4 199 L707 198.6 L707.6 198.1 L708.2 197.7 L708.8 197.2 L709.4 196.8 L710 196.4 L710.6 195.9 L711.2 195.5 L711.8 195 L712.4 194.6 L713.1 194.2 L713.7 193.7 L714.3 193.3 L714.9 192.9 L715.5 192.4 L716.1 192 L716.7 191.6 L717.3 191.1 L717.9 190.7 L718.5 190.3 L719.2 189.9 L719.8 189.4 L720.4 189 L721 188.6 L721.6 188.2 L722.2 187.8 L722.8 187.4 L723.4 186.9 L724 186.5 L724.6 186.1 L725.2 185.7 L725.9 185.3 L726.5 184.9 L727.1 184.5 L727.7 184.1 L728.3 183.7 L728.9 183.3 L729.5 182.9 L730.1 182.5 L730.7 182.1 L731.3 181.7 L731.9 181.3 L732.6 180.9 L733.2 180.5 L733.8 180.1 L734.4 179.7 L735 179.3 L735.6 178.9 L736.2 178.6 L736.8 178.2 L737.4 177.8 L738 177.4 L738.7 177 L739.3 176.6 L739.9 176.3 L740.5 175.9 L741.1 175.5 L741.7 175.1 L742.3 174.8 L742.9 174.4 L743.5 174 L744.1 173.7 L744.7 173.3 L745.4 172.9 L746 172.6 L746.6 172.2 L747.2 171.8 L747.8 171.5 L748.4 171.1 L749 170.8 L749.6 170.4 L750.2 170 L750.8 169.7 L751.5 169.3 L752.1 169 L752.7 168.6 L753.3 168.3 L753.9 167.9 L754.5 167.6 L755.1 167.2 L755.7 166.9 L756.3 166.6 L756.9 166.2 L757.5 165.9 L758.2 165.5 L758.8 165.2 L759.4 164.9 L760 164.5 L760.6 164.2 L761.2 163.9 L761.8 163.5 L762.4 163.2 L763 162.9 L763.6 162.5 L764.2 162.2 L764.9 161.9 L765.5 161.6 L766.1 161.2 L766.7 160.9 L767.3 160.6 L767.9 160.3 L768.5 160 L769.1 159.7 L769.7 159.3 L770.3 159 L771 158.7 L771.6 158.4 L772.2 158.1 L772.8 157.8 L773.4 157.5 L774 157.2 L774.6 156.9 L775.2 156.6 L775.8 156.3 L776.4 156 L777 155.7 L777.7 155.4 L778.3 155.1 L778.9 154.8 L779.5 154.5 L780.1 154.2 L780.7 153.9 L781.3 153.6 L781.9 153.3 L782.5 153 L783.1 152.7 L783.8 152.5 L784.4 152.2 L785 151.9 L785.6 151.6 L786.2 151.3 L786.8 151.1 L787.4 150.8 L788 150.5 L788.6 150.2 L789.2 149.9 L789.8 149.7 L790.5 149.4 L791.1 149.1 L791.7 148.9 L792.3 148.6 L792.9 148.3 L793.5 148.1 L794.1 147.8 L794.7 147.5 L795.3 147.3 L795.9 147 L796.6 146.8 L797.2 146.5 L797.8 146.2 L798.4 146 L799 145.7 L799.6 145.5 L800.2 145.2 L800.8 145 L801.4 144.7 L802 144.5 L802.6 144.2 L803.3 144 L803.9 143.8 L804.5 143.5 L805.1 143.3 L805.7 143 L806.3 142.8 L806.9 142.6 L807.5 142.3 L808.1 142.1 L808.7 141.8 L809.3 141.6 L810 141.4 L810.6 141.2 L811.2 140.9 L811.8 140.7 L812.4 140.5 L813 140.2 L813.6 140 L814.2 139.8 L814.8 139.6 L815.4 139.4 L816.1 139.1 L816.7 138.9 L817.3 138.7 L817.9 138.5 L818.5 138.3 L819.1 138.1 L819.7 137.9 L820.3 137.6 L820.9 137.4 L821.5 137.2 L822.1 137 L822.8 136.8 L823.4 136.6 L824 136.4 L824.6 136.2 L825.2 136 L825.8 135.8 L826.4 135.6 L827 135.4 L827.6 135.2 L828.2 135 L828.9 134.8 L829.5 134.6 L830.1 134.4 L830.7 134.3 L831.3 134.1 L831.9 133.9 L832.5 133.7 L833.1 133.5 L833.7 133.3 L834.3 133.1 L834.9 133 L835.6 132.8 L836.2 132.6 L836.8 132.4 L837.4 132.3 L838 132.1 L838.6 131.9 L839.2 131.7 L839.8 131.6 L840.4 131.4 L841 131.2 L841.6 131.1 L842.3 130.9 L842.9 130.7 L843.5 130.6 L844.1 130.4 L844.7 130.2 L845.3 130.1 L845.9 129.9 L846.5 129.8 L847.1 129.6 L847.7 129.5 L848.4 129.3 L849 129.1 L849.6 129 L850.2 128.8 L850.8 128.7 L851.4 128.5 L852 128.4 L852.6 128.3 L853.2 128.1 L853.8 128 L854.4 127.8 L855.1 127.7 L855.7 127.5 L856.3 127.4 L856.9 127.3 L857.5 127.1 L858.1 127 L858.7 126.9 L859.3 126.7 L859.9 126.6 L860.5 126.5 L861.2 126.3 L861.8 126.2 L862.4 126.1 L863 126 L863.6 125.8 L864.2 125.7 L864.8 125.6 L865.4 125.5 L866 125.4 L866.6 125.2 L867.2 125.1 L867.9 125 L868.5 124.9 L869.1 124.8 L869.7 124.7 L870.3 124.6 L870.9 124.5 L871.5 124.3 L872.1 124.2 L872.7 124.1 L873.3 124 L873.9 123.9 L874.6 123.8 L875.2 123.7 L875.8 123.6 L876.4 123.5 L877 123.4 L877.6 123.3 L878.2 123.2 L878.8 123.1 L879.4 123.1 L880 123 L880.7 122.9 L881.3 122.8 L881.9 122.7 L882.5 122.6 L883.1 122.5 L883.7 122.4 L884.3 122.4 L884.9 122.3 L885.5 122.2 L886.1 122.1 L886.7 122 L887.4 122 L888 121.9 L888.6 121.8 L889.2 121.7 L889.8 121.7 L890.4 121.6 L891 121.5 L891.6 121.5 L892.2 121.4 L892.8 121.3 L893.5 121.3 L894.1 121.2 L894.7 121.1 L895.3 121.1 L895.9 121 L896.5 121 L897.1 120.9 L897.7 120.9 L898.3 120.8 L898.9 120.7 L899.5 120.7 L900.2 120.6 L900.8 120.6 L901.4 120.5 L902 120.5 L902.6 120.4 L903.2 120.4 L903.8 120.4 L904.4 120.3 L905 120.3 L905.6 120.2 L906.3 120.2 L906.9 120.2 L907.5 120.1 L908.1 120.1 L908.7 120 L909.3 120 L909.9 120 L910.5 120 L911.1 119.9 L911.7 119.9 L912.3 119.9 L913 119.8 L913.6 119.8 L914.2 119.8 L914.8 119.8 L915.4 119.7 L916 119.7 L916.6 119.7 L917.2 119.7 L917.8 119.7 L918.4 119.7 L919 119.6 L919.7 119.6 L920.3 119.6 L920.9 119.6 L921.5 119.6 L922.1 119.6 L922.7 119.6 L923.3 119.6 L923.9 119.6 L924.5 119.6 L925.1 119.6 L925.8 119.6 L926.4 119.6 L927 119.6 L927.6 119.6 L928.2 119.6 L928.8 119.6 L929.4 119.6 L930 119.6 L930.6 119.6 L931.2 119.6 L931.8 119.6 L932.5 119.6 L933.1 119.6 L933.7 119.7 L934.3 119.7 L934.9 119.7 L935.5 119.7 L936.1 119.7 L936.7 119.8 L937.3 119.8 L937.9 119.8 L938.6 119.8 L939.2 119.8 L939.8 119.9 L940.4 119.9 L941 119.9 L941.6 120 L942.2 120 L942.8 120 L943.4 120.1 L944 120.1 L944.6 120.1 L945.3 120.2 L945.9 120.2 L946.5 120.2 L947.1 120.3 L947.7 120.3 L948.3 120.4 L948.9 120.4 L949.5 120.5 L950.1 120.5 L950.7 120.6 L951.3 120.6 L952 120.7 L952.6 120.7 L953.2 120.8 L953.8 120.8 L954.4 120.9 L955 120.9 L955.6 121 L956.2 121 L956.8 121.1 L957.4 121.2 L958.1 121.2 L958.7 121.3 L959.3 121.4 L959.9 121.4 L960.5 121.5 L961.1 121.6 L961.7 121.6 L962.3 121.7 L962.9 121.8 L963.5 121.8 L964.1 121.9 L964.8 122 L965.4 122.1 L966 122.2 L966.6 122.2 L967.2 122.3 L967.8 122.4 L968.4 122.5 L969 122.6 L969.6 122.6 L970.2 122.7 L970.9 122.8 L971.5 122.9 L972.1 123 L972.7 123.1 L973.3 123.2 L973.9 123.3 L974.5 123.4 L975.1 123.5 L975.7 123.6 L976.3 123.7 L976.9 123.8 L977.6 123.9 L978.2 124 L978.8 124.1 L979.4 124.2 L980 124.3 L980.6 124.4 L981.2 124.5 L981.8 124.6 L982.4 124.7 L983 124.8 L983.6 124.9 L984.3 125.1 L984.9 125.2 L985.5 125.3 L986.1 125.4 L986.7 125.5 L987.3 125.7 L987.9 125.8 L988.5 125.9 L989.1 126 L989.7 126.1 L990.4 126.3 L991 126.4 L991.6 126.5 L992.2 126.7 L992.8 126.8 L993.4 126.9 L994 127.1 L994.6 127.2 L995.2 127.3 L995.8 127.5 L996.4 127.6 L997.1 127.7 L997.7 127.9 L998.3 128 L998.9 128.2 L999.5 128.3 L1000.1 128.5 L1000.7 128.6 L1001.3 128.8 L1001.9 128.9 L1002.5 129.1 L1003.2 129.2 L1003.8 129.4 L1004.4 129.5 L1005 129.7 L1005.6 129.8 L1006.2 130 L1006.8 130.1 L1007.4 130.3 L1008 130.5 L1008.6 130.6 L1009.2 130.8 L1009.9 131 L1010.5 131.1 L1011.1 131.3 L1011.7 131.5 L1012.3 131.6 L1012.9 131.8 L1013.5 132 L1014.1 132.2 L1014.7 132.3 L1015.3 132.5 L1016 132.7 L1016.6 132.9 L1017.2 133 L1017.8 133.2 L1018.4 133.4 L1019 133.6 L1019.6 133.8 L1020.2 134 L1020.8 134.1 L1021.4 134.3 L1022 134.5 L1022.7 134.7 L1023.3 134.9 L1023.9 135.1 L1024.5 135.3 L1025.1 135.5 L1025.7 135.7 L1026.3 135.9 L1026.9 136.1 L1027.5 136.3 L1028.1 136.5 L1028.7 136.7 L1029.4 136.9 L1030 137.1 L1030.6 137.3 L1031.2 137.5 L1031.8 137.7 L1032.4 137.9 L1033 138.2 L1033.6 138.4 L1034.2 138.6 L1034.8 138.8 L1035.5 139 L1036.1 139.2 L1036.7 139.5 L1037.3 139.7 L1037.9 139.9 L1038.5 140.1 L1039.1 140.3 L1039.7 140.6 L1040.3 140.8 L1040.9 141 L1041.5 141.3 L1042.2 141.5 L1042.8 141.7 L1043.4 141.9 L1044 142.2 L1044.6 142.4 L1045.2 142.7 L1045.8 142.9 L1046.4 143.1 L1047 143.4 L1047.6 143.6 L1048.3 143.9 L1048.9 144.1 L1049.5 144.3 L1050.1 144.6 L1050.7 144.8 L1051.3 145.1 L1051.9 145.3 L1052.5 145.6 L1053.1 145.8 L1053.7 146.1 L1054.3 146.4 L1055 146.6 L1055.6 146.9 L1056.2 147.1 L1056.8 147.4 L1057.4 147.7 L1058 147.9 L1058.6 148.2 L1059.2 148.4 L1059.8 148.7 L1060.4 149 L1061 149.3 L1061.7 149.5 L1062.3 149.8 L1062.9 150.1 L1063.5 150.3 L1064.1 150.6 L1064.7 150.9 L1065.3 151.2 L1065.9 151.5 L1066.5 151.7 L1067.1 152 L1067.8 152.3 L1068.4 152.6 L1069 152.9 L1069.6 153.2 L1070.2 153.4 L1070.8 153.7 L1071.4 154 L1072 154.3 L1072.6 154.6 L1073.2 154.9 L1073.8 155.2 L1074.5 155.5 L1075.1 155.8 L1075.7 156.1 L1076.3 156.4 L1076.9 156.7 L1077.5 157 L1078.1 157.3 L1078.7 157.6 L1079.3 157.9 L1079.9 158.2 L1080.6 158.5 L1081.2 158.8 L1081.8 159.2 L1082.4 159.5 L1083 159.8 L1083.6 160.1 L1084.2 160.4 L1084.8 160.7 L1085.4 161.1 L1086 161.4 L1086.6 161.7 L1087.3 162 L1087.9 162.4 L1088.5 162.7 L1089.1 163 L1089.7 163.3 L1090.3 163.7 L1090.9 164 L1091.5 164.3 L1092.1 164.7 L1092.7 165 L1093.3 165.3 L1094 165.7 L1094.6 166 L1095.2 166.4 L1095.8 166.7 L1096.4 167 L1097 167.4 L1097.6 167.7 L1098.2 168.1 L1098.8 168.4 L1099.4 168.8 L1100.1 169.1 L1100.7 169.5 L1101.3 169.8 L1101.9 170.2 L1102.5 170.6 L1103.1 170.9 L1103.7 171.3 L1104.3 171.6 L1104.9 172 L1105.5 172.4 L1106.1 172.7 L1106.8 173.1 L1107.4 173.4 L1108 173.8 L1108.6 174.2 L1109.2 174.6 L1109.8 174.9 L1110.4 175.3 L1111 175.7 L1111.6 176.1 L1112.2 176.4 L1112.9 176.8 L1113.5 177.2 L1114.1 177.6 L1114.7 178 L1115.3 178.3 L1115.9 178.7 L1116.5 179.1 L1117.1 179.5 L1117.7 179.9 L1118.3 180.3 L1118.9 180.7 L1119.6 181.1 L1120.2 181.5 L1120.8 181.9 L1121.4 182.2 L1122 182.6 L1122.6 183 L1123.2 183.4 L1123.8 183.8 L1124.4 184.3 L1125 184.7 L1125.7 185.1 L1126.3 185.5 L1126.9 185.9 L1127.5 186.3 L1128.1 186.7 L1128.7 187.1 L1129.3 187.5 L1129.9 187.9 L1130.5 188.4 L1131.1 188.8 L1131.7 189.2 L1132.4 189.6 L1133 190 L1133.6 190.5 L1134.2 190.9 L1134.8 191.3 L1135.4 191.7 L1136 192.2 L1136.6 192.6 L1137.2 193 L1137.8 193.5 L1138.4 193.9 L1139.1 194.3 L1139.7 194.8 L1140.3 195.2 L1140.9 195.7 L1141.5 196.1 L1142.1 196.5 L1142.7 197 L1143.3 197.4 L1143.9 197.9 L1144.5 198.3 L1145.2 198.8 L1145.8 199.2 L1146.4 199.7 L1147 200.1 L1147.6 200.6 L1148.2 201 L1148.8 201.5 L1149.4 202 L1150 202.4 L1150.6 202.9 L1151.2 203.4 L1151.9 203.8 L1152.5 204.3 L1153.1 204.7 L1153.7 205.2 L1154.3 205.7 L1154.9 206.2 L1155.5 206.6 L1156.1 207.1 L1156.7 207.6 L1157.3 208.1 L1158 208.5 L1158.6 209 L1159.2 209.5 L1159.8 210 L1160.4 210.5 L1161 211 L1161.6 211.4 L1162.2 211.9 L1162.8 212.4 L1163.4 212.9 L1164 213.4 L1164.7 213.9 L1165.3 214.4 L1165.9 214.9 L1166.5 215.4 L1167.1 215.9 L1167.7 216.4 L1168.3 216.9 L1168.9 217.4 L1169.5 217.9 L1170.1 218.4 L1170.7 218.9 L1171.4 219.4 L1172 219.9 L1172.6 220.4 L1173.2 221 L1173.8 221.5 L1174.4 222 L1175 222.5 L1175.6 223 L1176.2 223.5 L1176.8 224.1 L1177.5 224.6 L1178.1 225.1 L1178.7 225.6 L1179.3 226.2 L1179.9 226.7 L1180.5 227.2 L1181.1 227.8 L1181.7 228.3 L1182.3 228.8 L1182.9 229.4 L1183.5 229.9 L1184.2 230.4 L1184.8 231 L1185.4 231.5 L1186 232.1 L1186.6 232.6 L1187.2 233.2 L1187.8 233.7 L1188.4 234.3 L1189 234.8 L1189.6 235.4 L1190.3 235.9 L1190.9 236.5 L1191.5 237 L1192.1 237.6 L1192.7 238.1 L1193.3 238.7 L1193.9 239.3 L1194.5 239.8 L1195.1 240.4 L1195.7 241 L1196.3 241.5 L1197 242.1 L1197.6 242.7 L1198.2 243.2 L1198.8 243.8 L1199.4 244.4 L1200 245 L1200.6 245.5 L1201.2 246.1 L1201.8 246.7 L1202.4 247.3 L1203 247.9 L1203.7 248.5 L1204.3 249 L1204.9 249.6 L1205.5 250.2 L1206.1 250.8 L1206.7 251.4 L1207.3 252 L1207.9 252.6 L1208.5 253.2 L1209.1 253.8 L1209.8 254.4 L1210.4 255 L1211 255.6 L1211.6 256.2 L1212.2 256.8 L1212.8 257.4 L1213.4 258 L1214 258.6 L1214.6 259.2 L1215.2 259.9 L1215.8 260.5 L1216.5 261.1 L1217.1 261.7 L1217.7 262.3 L1218.3 263 L1218.9 263.6 L1219.5 264.2 L1220.1 264.8 L1220.7 265.5 L1221.3 266.1 L1221.9 266.7 L1222.6 267.3 L1223.2 268 L1223.8 268.6 L1224.4 269.3 L1225 269.9 L1225.6 270.5 L1226.2 271.2 L1226.8 271.8 L1227.4 272.5 L1228 273.1 L1228.6 273.8 L1229.3 274.4 L1229.9 275.1 L1230.5 275.7 L1231.1 276.4 L1231.7 277 L1232.3 277.7 L1232.9 278.3 L1233.5 279 L1234.1 279.6 L1234.7 280.3 L1235.3 281 L1236 281.6 L1236.6 282.3 L1237.2 283 L1237.8 283.6 L1238.4 284.3 L1239 285 L1239.6 285.7 L1240.2 286.3 L1240.8 287 L1241.4 287.7 L1242.1 288.4 L1242.7 289.1 L1243.3 289.8 L1243.9 290.4 L1244.5 291.1 L1245.1 291.8 L1245.7 292.5 L1246.3 293.2 L1246.9 293.9 L1247.5 294.6 L1248.1 295.3 L1248.8 296 L1249.4 296.7 L1250 297.4 L1250.6 298.1 L1251.2 298.8 L1251.8 299.5 L1252.4 300.2 L1253 300.9 L1253.6 301.6 L1254.2 302.4 L1254.9 303.1 L1255.5 303.8 L1256.1 304.5 L1256.7 305.2 L1257.3 305.9 L1257.9 306.7 L1258.5 307.4 L1259.1 308.1 L1259.7 308.8 L1260.3 309.6 L1260.9 310.3 L1261.6 311 L1262.2 311.8 L1262.8 312.5 L1263.4 313.2 L1264 314 L1264.6 314.7 L1265.2 315.5 L1265.8 316.2 L1266.4 317 L1267 317.7 L1267.7 318.5 L1268.3 319.2 L1268.9 320 L1269.5 320.7 L1270.1 321.5 L1270.7 322.2 L1271.3 323 L1271.9 323.7 L1272.5 324.5 L1273.1 325.3 L1273.7 326 L1274.4 326.8 L1275 327.6 L1275.6 328.3 L1276.2 329.1 L1276.8 329.9 L1277.4 330.7 L1278 331.4 L1278.6 332.2 L1279.2 333 L1279.8 333.8 L1280.4 334.6 L1281.1 335.4 L1281.7 336.1 L1282.3 336.9 L1282.9 337.7 L1283.5 338.5 L1284.1 339.3 L1284.7 340.1 L1285.3 340.9 L1285.9 341.7 L1286.5 342.5 L1287.2 343.3 L1287.8 344.1 L1288.4 344.9 L1289 345.7 L1289.6 346.5 L1290.2 347.4 L1290.8 348.2 L1291.4 349 L1292 349.8 L1292.6 350.6 L1293.2 351.4 L1293.9 352.3 L1294.5 353.1 L1295.1 353.9 L1295.7 354.7 L1296.3 355.6 L1296.9 356.4 L1297.5 357.2 L1298.1 358.1 L1298.7 358.9 L1299.3 359.7 L1300 360.6 L1300.6 361.4 L1301.2 362.3 L1301.8 363.1 L1302.4 364 L1303 364.8 L1303.6 365.6 L1304.2 366.5 L1304.8 367.4 L1305.4 368.2 L1306 369.1 L1306.7 369.9 L1307.3 370.8 L1307.9 371.6 L1308.5 372.5 L1309.1 373.4 L1309.7 374.2 L1310.3 375.1 L1310.9 376 L1311.5 376.9 L1312.1 377.7 L1312.7 378.6 L1313.4 379.5 L1314 380.4 L1314.6 381.3 L1315.2 382.1 L1315.8 383 L1316.4 383.9 L1317 384.8 L1317.6 385.7 L1318.2 386.6 L1318.8 387.5 L1319.5 388.4 L1320.1 389.3 L1320.7 390.2 L1321.3 391.1 L1321.9 392 L1322.5 392.9 L1323.1 393.8 L1323.7 394.7 L1324.3 395.6 L1324.9 396.5 L1325.5 397.4 L1326.2 398.4 L1326.8 399.3 L1327.4 400.2 L1328 401.1 L1328.6 402.1 L1329.2 403 L1329.8 403.9 L1330.4 404.8 L1331 405.8 L1331.6 406.7 L1332.3 407.6 L1332.9 408.6 L1333.5 409.5 L1334.1 410.5 L1334.7 411.4 L1335.3 412.4 L1335.9 413.3 L1336.5 414.2 L1337.1 415.2 L1337.7 416.2 L1338.3 417.1 L1339 418.1 L1339.6 419 L1340.2 420 L1340.8 420.9 L1341.4 421.9 L1342 422.9 L1342.6 423.8 L1343.2 424.8 L1343.8 425.8 L1344.4 426.8 L1345 427.7 L1345.7 428.7 L1346.3 429.7 L1346.9 430.7 L1347.5 431.7 L1348.1 432.7 L1348.7 433.6 L1349.3 434.6 L1349.9 435.6 L1350.5 436.6 L1351.1 437.6 L1351.8 438.6 L1352.4 439.6 L1353 440.6 L1353.6 441.6 L1354.2 442.6 L1354.8 443.6 L1355.4 444.6 L1356 445.7 L1356.6 446.7 L1357.2 447.7 L1357.8 448.7 L1358.5 449.7 L1359.1 450.7 L1359.7 451.8 L1360.3 452.8 L1360.9 453.8 L1361.5 454.8 L1362.1 455.9 L1362.7 456.9 L1363.3 457.9 L1363.9 459 L1364.6 460 L1365.2 461.1 L1365.8 462.1 L1366.4 463.2 L1367 464.2 L1367.6 465.3 L1368.2 466.3 L1368.8 467.4 L1369.4 468.4 L1370 469.5 L1370.6 470.5 L1371.3 471.6 L1371.9 472.7 L1372.5 473.7 L1373.1 474.8 L1373.7 475.9 L1374.3 477 L1374.9 478 L1375.5 479.1 L1376.1 480.2 L1376.7 481.3 L1377.4 482.3 L1378 483.4 L1378.6 484.5 L1379.2 485.6 L1379.8 486.7 L1380.4 487.8 L1381 488.9 L1381.6 490 L1382.2 491.1 L1382.8 492.2 L1383.4 493.3 L1384.1 494.4 L1384.7 495.5 L1385.3 496.6 L1385.9 497.7 L1386.5 498.9 L1387.1 500 L1387.7 501.1 L1388.3 502.2 L1388.9 503.3 L1389.5 504.5 L1390.1 505.6 L1390.8 506.7 L1391.4 507.9 L1392 509 L1392.6 510.1 L1393.2 511.3 L1393.8 512.4 L1394.4 513.6 L1395 514.7 L1395.6 515.9 L1396.2 517 L1396.9 518.2 L1397.5 519.3 L1398.1 520.5 L1398.7 521.6 L1399.3 522.8 L1399.9 524 L1400.5 525.1 L1401.1 526.3 L1401.7 527.5 L1402.3 528.6 L1402.9 529.8 L1403.6 531 L1404.2 532.2 L1404.8 533.4 L1405.4 534.5 L1406 535.7 L1406.6 536.9 L1407.2 538.1 L1407.8 539.3 L1408.4 540.5 L1409 541.7 L1409.7 542.9 L1410.3 544.1 L1410.9 545.3 L1411.5 546.5 L1412.1 547.7 L1412.7 548.9 L1413.3 550.2 L1413.9 551.4 L1414.5 552.6 L1415.1 553.8 L1415.7 555 L1416.4 556.3 L1417 557.5 L1417.6 558.7 L1418.2 560 L1418.8 561.2 L1419.4 562.4 L1420 563.7 L1420.6 564.9 L1421.2 566.2 L1421.8 567.4 L1422.4 568.7 L1423.1 569.9 L1423.7 571.2 L1424.3 572.4 L1424.9 573.7 L1425.5 574.9 L1426.1 576.2 L1426.7 577.5 L1427.3 578.7 L1427.9 580 L1428.5 581.3 L1429.2 582.6 L1429.8 583.9 L1430.4 585.1 L1431 586.4 L1431.6 587.7 L1432.2 589 L1432.8 590.3 L1433.4 591.6 L1434 592.9 L1434.6 594.2 L1435.2 595.5 L1435.9 596.8 L1436.5 598.1 L1437.1 599.4 L1437.7 600.7 L1438.3 602 L1438.9 603.3 L1439.5 604.7 L1440.1 606 L1440.7 607.3 L1441.3 608.6 L1442 610 L1442.6 611.3 L1443.2 612.6 L1443.8 614 L1444.4 615.3 L1445 616.6 L1445.6 618 L1446.2 619.3 L1446.8 620.7 L1447.4 622 L1448 623.4 L1448.7 624.7 L1449.3 626.1 L1449.9 627.5 L1450.5 628.8 L1451.1 630.2 L1451.7 631.6 L1452.3 632.9 L1452.9 634.3 L1453.5 635.7 L1454.1 637.1 L1454.7 638.5 L1455.4 639.9 L1456 641.2 L1456.6 642.6 L1457.2 644 L1457.8 645.4 L1458.4 646.8 L1459 648.2 L1459.6 649.6 L1460.2 651 L1460.8 652.5 L1461.5 653.9 L1462.1 655.3 L1462.7 656.7 L1463.3 658.1 L1463.9 659.5 L1464.5 661 L1465.1 662.4 L1465.7 663.8 L1466.3 665.3 L1466.9 666.7 L1467.5 668.1 L1468.2 669.6 L1468.8 671 L1469.4 672.5 L1470 673.9 L1470.6 675.4 L1471.2 676.8 L1471.8 678.3 L1472.4 679.8 L1473 681.2 L1473.6 682.7 L1474.3 684.2 L1474.9 685.6 L1475.5 687.1 L1476.1 688.6 L1476.7 690.1 L1477.3 691.6 L1477.9 693.1 L1478.5 694.6 L1479.1 696 L1479.7 697.5 L1480.3 699 L1481 700.5 L1481.6 702.1 L1482.2 703.6 L1482.8 705.1 L1483.4 706.6 L1484 708.1 L1484.6 709.6 L1485.2 711.1 L1485.8 712.7 L1486.4 714.2 L1487.1 715.7 L1487.7 717.3 L1488.3 718.8 L1488.9 720.3 L1489.5 721.9 L1490.1 723.4 L1490.7 725 L1491.3 726.5 L1491.9 728.1 L1492.5 729.7 L1493.1 731.2 L1493.8 732.8 L1494.4 734.3 L1495 735.9 L1495.6 737.5 L1496.2 739.1 L1496.8 740.6 L1497.4 742.2 L1498 743.8 L1498.6 745.4 L1499.2 747 L1499.8 748.6 L1500.5 750.2 L1501.1 751.8 L1501.7 753.4 L1502.3 755 L1502.9 756.6 L1503.5 758.2 L1504.1 759.8 L1504.7 761.5 L1505.3 763.1 L1505.9 764.7 L1506.6 766.3 L1507.2 768 L1507.8 769.6 L1508.4 771.3 L1509 772.9 L1509.6 774.5 L1510.2 776.2 L1510.8 777.8 L1511.4 779.5 L1512 781.2 L1512.6 782.8 L1513.3 784.5 L1513.9 786.2 L1514.5 787.8 L1515.1 789.5 L1515.7 791.2 L1516.3 792.9 L1516.9 794.5 L1517.5 796.2 L1518.1 797.9 L1518.7 799.6 L1519.4 801.3 L1520 803 L1520.6 804.7 L1521.2 806.4 L1521.8 808.1 L1522.4 809.9 L1523 811.6 L1523.6 813.3 L1524.2 815 L1524.8 816.8 L1525.4 818.5 L1526.1 820.2 L1526.7 822 L1527.3 823.7 L1527.9 825.4 L1528.5 827.2 L1529.1 828.9 L1529.7 830.7 L1530.3 832.5 L1530.9 834.2 L1531.5 836 L1532.1 837.8 L1532.8 839.5 L1533.4 841.3 L1534 843.1 L1534.6 844.9 L1535.2 846.7 L1535.8 848.4 L1536.4 850.2 L1537 852 L1537.6 853.8 L1538.2 855.6 L1538.9 857.5 L1539.5 859.3 L1540.1 861.1 L1540.7 862.9 L1541.3 864.7 L1541.9 866.5 L1542.5 868.4 L1543.1 870.2 L1543.7 872 L1544.3 873.9 L1544.9 875.7 L1545.6 877.6 L1546.2 879.4 L1546.8 881.3 L1547.4 883.2 L1548 885 L1548.6 886.9 L1549.2 888.8 L1549.8 890.6 L1550.4 892.5 L1551 894.4 L1551.7 896.3 L1552.3 898.2 L1552.9 900.1 L1553.5 902 L1554.1 903.9 L1554.7 905.8 L1555.3 907.7 L1555.9 909.6 L1556.5 911.5 L1557.1 913.4 L1557.7 915.3 L1558.4 917.3 L1559 919.2 L1559.6 921.1 L1560.2 923.1 L1560.8 925 L1561.4 927 L1562 928.9 L1562.6 930.9 L1563.2 932.8 L1563.8 934.8 L1564.4 936.8 L1565.1 938.7 L1565.7 940.7 L1566.3 942.7 L1566.9 944.7 L1567.5 946.7 L1568.1 948.7 L1568.7 950.6 L1569.3 952.6 L1569.9 954.7 L1570.5 956.7 L1571.2 958.7 L1571.8 960.7 L1572.4 962.7 L1573 964.7 L1573.6 966.8 L1574.2 968.8 L1574.8 970.8 L1575.4 972.9 L1576 974.9 L1576.6 977 L1577.2 979 L1577.9 981.1 L1578.5 983.1 L1579.1 985.2 L1579.7 987.3 L1580.3 989.4 L1580.9 991.4 L1581.5 993.5 L1582.1 995.6 L1582.7 997.7 L1583.3 999.8 L1584 1001.9 L1584.6 1004 L1585.2 1006.1 L1585.8 1008.2 L1586.4 1010.3 L1587 1012.5 L1587.6 1014.6 L1588.2 1016.7 L1588.8 1018.9 L1589.4 1021 L1590 1023.1 L1590.7 1025.3 L1591.3 1027.4 L1591.9 1029.6 L1592.5 1031.8 L1593.1 1033.9 L1593.7 1036.1 L1594.3 1038.3 L1594.9 1040.5 L1595.5 1042.6 L1596.1 1044.8 L1596.8 1047 L1597.4 1049.2 L1598 1051.4 L1598.6 1053.6 L1599.2 1055.9 L1599.8 1058.1 L1600.4 1060.3 L1601 1062.5 L1601.6 1064.8 L1602.2 1067 L1602.8 1069.2 L1603.5 1071.5 L1604.1 1073.7 L1604.7 1076 L1605.3 1078.3 L1605.9 1080.5 L1606.5 1082.8 L1607.1 1085.1 L1607.7 1087.3 L1608.3 1089.6 L1608.9 1091.9 L1609.5 1094.2 L1610.2 1096.5 L1610.8 1098.8 L1611.4 1101.1 L1612 1103.4 L1612.6 1105.8 L1613.2 1108.1 L1613.8 1110.4 L1614.4 1112.8 L1615 1115.1 L1615.6 1117.4 L1616.3 1119.8 L1616.9 1122.1 L1617.5 1124.5 L1618.1 1126.9 L1618.7 1129.2 L1619.3 1131.6 L1619.9 1134 L1620.5 1136.4 L1621.1 1138.8 L1621.7 1141.2 L1622.3 1143.6 L1623 1146 L1623.6 1148.4 L1624.2 1150.8 L1624.8 1153.2 L1625.4 1155.7 L1626 1158.1 L1626.6 1160.5 L1627.2 1163 L1627.8 1165.4 L1628.4 1167.9 L1629.1 1170.3 L1629.7 1172.8 L1630.3 1175.3 L1630.9 1177.7 L1631.5 1180.2 L1632.1 1182.7 L1632.7 1185.2 L1633.3 1187.7 L1633.9 1190.2 L1634.5 1192.7 L1635.1 1195.2 L1635.8 1197.8 L1636.4 1200.3 L1637 1202.8 L1637.6 1205.4 L1638.2 1207.9 L1638.8 1210.4 L1639.4 1213 L1640 1215.6 L1640.6 1218.1 L1641.2 1220.7 L1641.8 1223.3 L1642.5 1225.9 L1643.1 1228.4 L1643.7 1231 L1644.3 1233.6 L1644.9 1236.3 L1645.5 1238.9 L1646.1 1241.5 L1646.7 1244.1 L1647.3 1246.7 L1647.9 1249.4 L1648.6 1252 L1649.2 1254.7 L1649.8 1257.3 L1650.4 1260 L1651 1262.6 L1651.6 1265.3 L1652.2 1268 L1652.8 1270.7 L1653.4 1273.4 L1654 1276.1 L1654.6 1278.8 L1655.3 1281.5 L1655.9 1284.2 L1656.5 1286.9 L1657.1 1289.7 L1657.7 1292.4 L1658.3 1295.1 L1658.9 1297.9 L1659.5 1300.6 L1660.1 1303.4 L1660.7 1306.2 L1661.4 1308.9 L1662 1311.7 L1662.6 1314.5 L1663.2 1317.3 L1663.8 1320.1 L1664.4 1322.9 L1665 1325.7 L1665.6 1328.5 L1666.2 1331.4 L1666.8 1334.2 L1667.4 1337 L1668.1 1339.9 L1668.7 1342.7 L1669.3 1345.6 L1669.9 1348.5 L1670.5 1351.3 L1671.1 1354.2 L1671.7 1357.1 L1672.3 1360 L1672.9 1362.9 L1673.5 1365.8 L1674.1 1368.7 L1674.8 1371.6 L1675.4 1374.6 L1676 1377.5 L1676.6 1380.4 L1677.2 1383.4 L1677.8 1386.4 L1678.4 1389.3 L1679 1392.3 L1679.6 1395.3 L1680.2 1398.3 L1680.9 1401.2 L1681.5 1404.2 L1682.1 1407.3 L1682.7 1410.3 L1683.3 1413.3 L1683.9 1416.3 L1684.5 1419.4" stroke="#7f308e" stroke-width="8" fill="none" stroke-linecap="square" stroke-dasharray="0.01 13.49" stroke-dashoffset="0.00"/>
</g>
<g font-family="Liberation Sans, Arial, sans-serif" font-size="55" fill="#4a4b4e"><text x="154.5" y="1423.0" text-anchor="end" transform="matrix(1 0 0 1.025 0 -35.58)">24</text><text x="154.5" y="1196.8" text-anchor="end" transform="matrix(1 0 0 1.025 0 -29.92)">25</text><text x="154.5" y="970.7" text-anchor="end" transform="matrix(1 0 0 1.025 0 -24.27)">26</text><text x="154.5" y="744.5" text-anchor="end" transform="matrix(1 0 0 1.025 0 -18.61)">27</text><text x="154.5" y="518.3" text-anchor="end" transform="matrix(1 0 0 1.025 0 -12.96)">28</text><text x="154.5" y="292.2" text-anchor="end" transform="matrix(1 0 0 1.025 0 -7.30)">29</text><text x="154.5" y="66.0" text-anchor="end" transform="matrix(1 0 0 1.025 0 -1.65)">30</text><text x="172.0" y="1475.8" text-anchor="middle" transform="matrix(1 0 0 1.025 0 -36.89)">30</text><text x="476.6" y="1475.8" text-anchor="middle" transform="matrix(1 0 0 1.025 0 -36.89)">40</text><text x="781.2" y="1475.8" text-anchor="middle" transform="matrix(1 0 0 1.025 0 -36.89)">50</text><text x="1085.8" y="1475.8" text-anchor="middle" transform="matrix(1 0 0 1.025 0 -36.89)">60</text><text x="1390.4" y="1475.8" text-anchor="middle" transform="matrix(1 0 0 1.025 0 -36.89)">70</text><text x="1695.0" y="1475.8" text-anchor="middle" transform="matrix(1 0 0 1.025 0 -36.89)">80</text></g>
<text transform="translate(70 722.6) rotate(-90) scale(1 1.025)" text-anchor="middle" font-family="Liberation Sans, Arial, sans-serif" font-size="60" fill="#4a4b4e">RCS [dBsm]</text>
<text x="0" y="0" transform="translate(933.5 1554) scale(1 1.025)" text-anchor="middle" font-family="Liberation Sans, Arial, sans-serif" font-size="60.5" fill="#4a4b4e"><tspan font-family="Liberation Serif, serif" font-style="italic">θ</tspan> [deg]</text>
<rect x="1025" y="1027" width="581" height="299" fill="#ffffff" stroke="#37383b" stroke-width="2"/>
<path d="M1035 1073H1137" stroke="#0b72b9" stroke-width="8"/>
<path d="M1035 1155H1137" stroke="#d85426" stroke-width="8"/>
<path d="M1035 1228H1137" stroke="#ecb120" stroke-width="8" stroke-dasharray="7.6 5.9"/>
<path d="M1035 1290H1137" stroke="#7f308e" stroke-width="8" stroke-dasharray="7.6 5.9"/>
<g font-family="Liberation Sans, Arial, sans-serif" font-size="49" fill="#231f20" xml:space="preserve"><text x="0" y="0" transform="translate(1144.3 1081.3) scale(1 1.025)">MoM: E<tspan font-family="Liberation Serif, serif" font-style="italic" font-size="39.5" dy="24">θ</tspan><tspan dy="-24">,</tspan> f= 2.7 GHz</text><text x="0" y="0" transform="translate(1144.3 1163.9) scale(1 1.025)">MoM: E<tspan font-family="Liberation Serif, serif" font-style="italic" font-size="39.5" dy="24">θ</tspan><tspan dy="-24">,</tspan> f= 3 GHz</text><text x="0" y="0" transform="translate(1144.3 1247.2) scale(1 1.025)">GO, f= 2.7 GHz</text><text x="0" y="0" transform="translate(1144.3 1309.4) scale(1 1.025)">GO, f= 3 GHz</text></g>
</svg>
</body></html>
